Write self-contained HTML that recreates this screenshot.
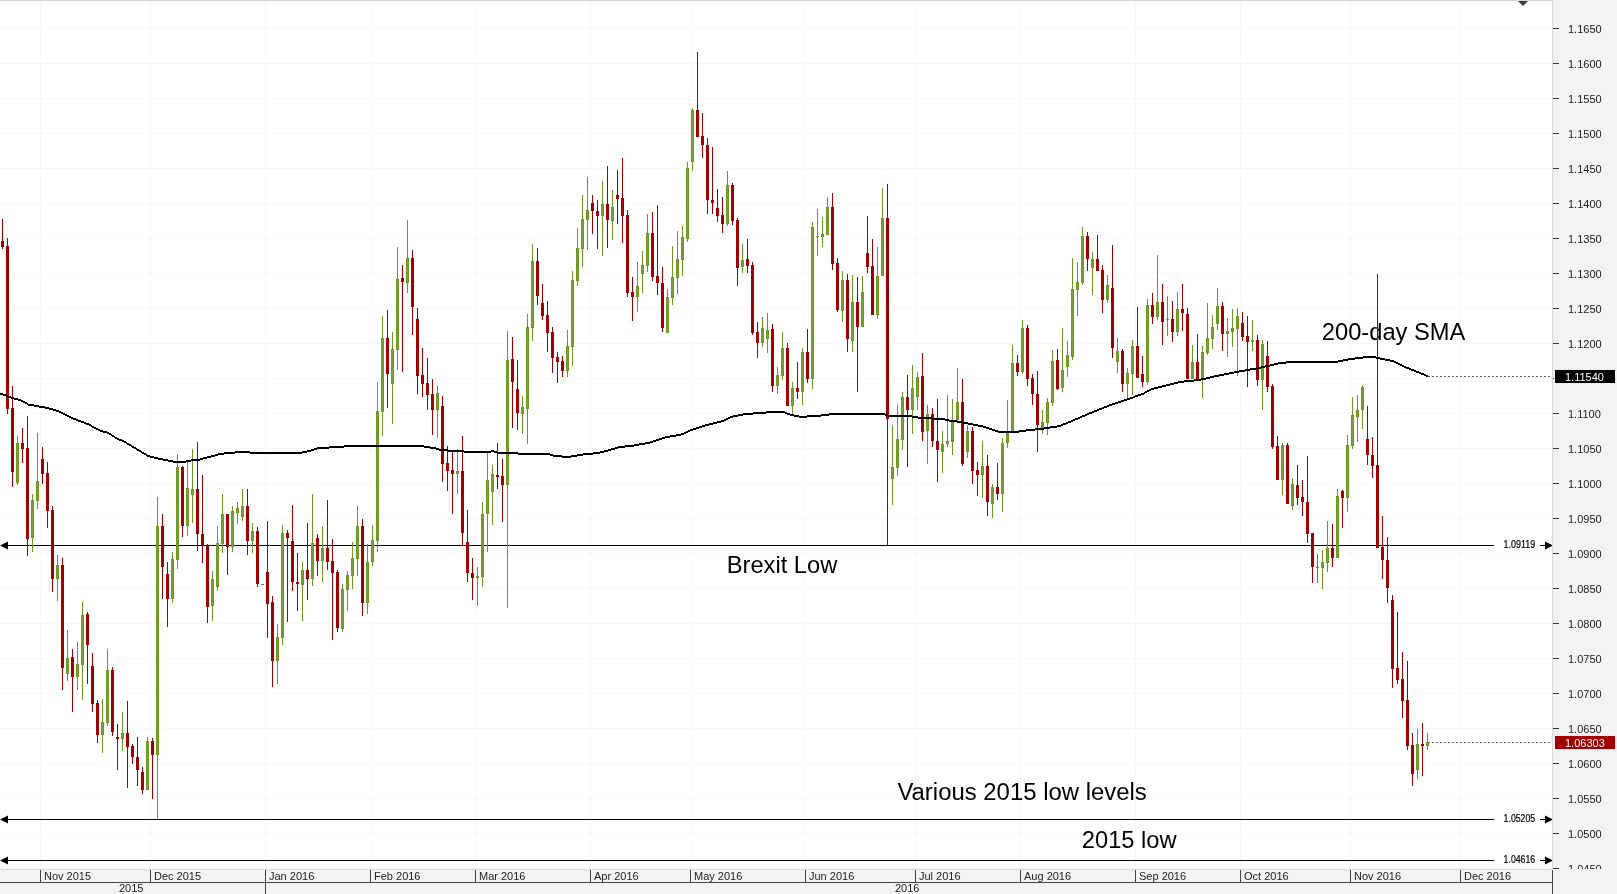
<!DOCTYPE html>
<html><head><meta charset="utf-8"><style>
html,body{margin:0;padding:0;background:#fff;}
body{width:1617px;height:894px;overflow:hidden;position:relative;font-family:"Liberation Sans",sans-serif;}
svg{position:absolute;left:0;top:0;will-change:transform;}
.ax{font-size:11px;fill:#222;}
.big{font-size:23.7px;fill:#000;}
.sm{font-size:10px;fill:#000;stroke:#000;stroke-width:0.2px;}
</style></head><body>
<svg width="1617" height="894" viewBox="0 0 1617 894">
<rect x="0" y="0" width="1617" height="894" fill="#fff"/>
<g shape-rendering="crispEdges">
<rect x="0" y="28" width="1552" height="1" fill="#f7f7f7"/>
<rect x="0" y="63" width="1552" height="1" fill="#f7f7f7"/>
<rect x="0" y="98" width="1552" height="1" fill="#f7f7f7"/>
<rect x="0" y="133" width="1552" height="1" fill="#f7f7f7"/>
<rect x="0" y="168" width="1552" height="1" fill="#f7f7f7"/>
<rect x="0" y="203" width="1552" height="1" fill="#f7f7f7"/>
<rect x="0" y="238" width="1552" height="1" fill="#f7f7f7"/>
<rect x="0" y="273" width="1552" height="1" fill="#f7f7f7"/>
<rect x="0" y="308" width="1552" height="1" fill="#f7f7f7"/>
<rect x="0" y="343" width="1552" height="1" fill="#f7f7f7"/>
<rect x="0" y="378" width="1552" height="1" fill="#f7f7f7"/>
<rect x="0" y="413" width="1552" height="1" fill="#f7f7f7"/>
<rect x="0" y="448" width="1552" height="1" fill="#f7f7f7"/>
<rect x="0" y="483" width="1552" height="1" fill="#f7f7f7"/>
<rect x="0" y="518" width="1552" height="1" fill="#f7f7f7"/>
<rect x="0" y="553" width="1552" height="1" fill="#f7f7f7"/>
<rect x="0" y="588" width="1552" height="1" fill="#f7f7f7"/>
<rect x="0" y="623" width="1552" height="1" fill="#f7f7f7"/>
<rect x="0" y="658" width="1552" height="1" fill="#f7f7f7"/>
<rect x="0" y="693" width="1552" height="1" fill="#f7f7f7"/>
<rect x="0" y="728" width="1552" height="1" fill="#f7f7f7"/>
<rect x="0" y="763" width="1552" height="1" fill="#f7f7f7"/>
<rect x="0" y="798" width="1552" height="1" fill="#f7f7f7"/>
<rect x="0" y="833" width="1552" height="1" fill="#f7f7f7"/>
<rect x="0" y="868" width="1552" height="1" fill="#f7f7f7"/>
<rect x="40" y="0" width="1" height="869" fill="#f7f7f7"/>
<rect x="150" y="0" width="1" height="869" fill="#f7f7f7"/>
<rect x="265" y="0" width="1" height="869" fill="#f7f7f7"/>
<rect x="370" y="0" width="1" height="869" fill="#f7f7f7"/>
<rect x="475" y="0" width="1" height="869" fill="#f7f7f7"/>
<rect x="590" y="0" width="1" height="869" fill="#f7f7f7"/>
<rect x="690" y="0" width="1" height="869" fill="#f7f7f7"/>
<rect x="805" y="0" width="1" height="869" fill="#f7f7f7"/>
<rect x="915" y="0" width="1" height="869" fill="#f7f7f7"/>
<rect x="1020" y="0" width="1" height="869" fill="#f7f7f7"/>
<rect x="1135" y="0" width="1" height="869" fill="#f7f7f7"/>
<rect x="1240" y="0" width="1" height="869" fill="#f7f7f7"/>
<rect x="1350" y="0" width="1" height="869" fill="#f7f7f7"/>
<rect x="1460" y="0" width="1" height="869" fill="#f7f7f7"/>
<rect x="0" y="0" width="1552" height="1" fill="#d8d8d8"/>
</g>
<g shape-rendering="crispEdges">
<rect x="4" y="545" width="1490" height="1" fill="#000"/>
<rect x="1540" y="545" width="6" height="1" fill="#000"/>
<rect x="4" y="819" width="1490" height="1" fill="#000"/>
<rect x="1540" y="819" width="6" height="1" fill="#000"/>
<rect x="4" y="860" width="1490" height="1" fill="#000"/>
<rect x="1540" y="860" width="6" height="1" fill="#000"/>
</g>
<path d="M0,545.5 L8,541.5 L8,549.5 Z" fill="#000"/>
<path d="M1553,545.5 L1545,541.5 L1545,549.5 Z" fill="#000"/>
<text class="sm" x="1503.6" y="548" textLength="31.6" lengthAdjust="spacingAndGlyphs">1.09119</text>
<path d="M0,819.5 L8,815.5 L8,823.5 Z" fill="#000"/>
<path d="M1553,819.5 L1545,815.5 L1545,823.5 Z" fill="#000"/>
<text class="sm" x="1503.6" y="822" textLength="31.6" lengthAdjust="spacingAndGlyphs">1.05205</text>
<path d="M0,860.5 L8,856.5 L8,864.5 Z" fill="#000"/>
<path d="M1553,860.5 L1545,856.5 L1545,864.5 Z" fill="#000"/>
<text class="sm" x="1503.6" y="863" textLength="31.6" lengthAdjust="spacingAndGlyphs">1.04616</text>
<text class="big" x="726.7" y="573">Brexit Low</text>
<text class="big" x="1321.8" y="340">200-day SMA</text>
<text class="big" x="897.4" y="800" style="font-size:23.92px">Various 2015 low levels</text>
<text class="big" x="1081.8" y="848">2015 low</text>
<g shape-rendering="crispEdges">
<rect x="2" y="219" width="1" height="30" fill="#a00000"/>
<rect x="1" y="241" width="3" height="6" fill="#a00000"/>
<rect x="7" y="238" width="1" height="176" fill="#a00000"/>
<rect x="6" y="246" width="3" height="163" fill="#a00000"/>
<rect x="12" y="386" width="1" height="101" fill="#a00000"/>
<rect x="11" y="408" width="3" height="64" fill="#a00000"/>
<rect x="17" y="436" width="1" height="49" fill="#6e9622"/>
<rect x="16" y="443" width="3" height="40" fill="#6e9622"/>
<rect x="17" y="444" width="1" height="38" fill="#79a033"/>
<rect x="22" y="428" width="1" height="35" fill="#a00000"/>
<rect x="21" y="443" width="3" height="6" fill="#a00000"/>
<rect x="27" y="416" width="1" height="140" fill="#a00000"/>
<rect x="26" y="448" width="3" height="91" fill="#a00000"/>
<rect x="32" y="494" width="1" height="58" fill="#6e9622"/>
<rect x="31" y="500" width="3" height="38" fill="#6e9622"/>
<rect x="32" y="501" width="1" height="36" fill="#79a033"/>
<rect x="37" y="433" width="1" height="76" fill="#6e9622"/>
<rect x="36" y="481" width="3" height="20" fill="#6e9622"/>
<rect x="37" y="482" width="1" height="18" fill="#79a033"/>
<rect x="42" y="447" width="1" height="37" fill="#a00000"/>
<rect x="41" y="459" width="3" height="15" fill="#a00000"/>
<rect x="47" y="462" width="1" height="66" fill="#a00000"/>
<rect x="46" y="473" width="3" height="38" fill="#a00000"/>
<rect x="52" y="506" width="1" height="86" fill="#a00000"/>
<rect x="51" y="510" width="3" height="69" fill="#a00000"/>
<rect x="57" y="555" width="1" height="46" fill="#6e9622"/>
<rect x="56" y="565" width="3" height="14" fill="#6e9622"/>
<rect x="57" y="566" width="1" height="12" fill="#79a033"/>
<rect x="62" y="558" width="1" height="132" fill="#a00000"/>
<rect x="61" y="565" width="3" height="103" fill="#a00000"/>
<rect x="67" y="630" width="1" height="51" fill="#6e9622"/>
<rect x="66" y="658" width="3" height="16" fill="#6e9622"/>
<rect x="67" y="659" width="1" height="14" fill="#79a033"/>
<rect x="72" y="649" width="1" height="63" fill="#a00000"/>
<rect x="71" y="657" width="3" height="20" fill="#a00000"/>
<rect x="77" y="642" width="1" height="48" fill="#6e9622"/>
<rect x="76" y="664" width="3" height="13" fill="#6e9622"/>
<rect x="77" y="665" width="1" height="11" fill="#79a033"/>
<rect x="82" y="602" width="1" height="98" fill="#6e9622"/>
<rect x="81" y="615" width="3" height="50" fill="#6e9622"/>
<rect x="82" y="616" width="1" height="48" fill="#79a033"/>
<rect x="87" y="612" width="1" height="72" fill="#a00000"/>
<rect x="86" y="614" width="3" height="31" fill="#a00000"/>
<rect x="92" y="653" width="1" height="59" fill="#a00000"/>
<rect x="91" y="666" width="3" height="38" fill="#a00000"/>
<rect x="97" y="700" width="1" height="43" fill="#a00000"/>
<rect x="96" y="703" width="3" height="32" fill="#a00000"/>
<rect x="102" y="699" width="1" height="54" fill="#6e9622"/>
<rect x="101" y="722" width="3" height="13" fill="#6e9622"/>
<rect x="102" y="723" width="1" height="11" fill="#79a033"/>
<rect x="107" y="649" width="1" height="77" fill="#6e9622"/>
<rect x="106" y="670" width="3" height="53" fill="#6e9622"/>
<rect x="107" y="671" width="1" height="51" fill="#79a033"/>
<rect x="112" y="667" width="1" height="69" fill="#a00000"/>
<rect x="111" y="670" width="3" height="62" fill="#a00000"/>
<rect x="117" y="724" width="1" height="46" fill="#a00000"/>
<rect x="116" y="737" width="3" height="2" fill="#a00000"/>
<rect x="122" y="712" width="1" height="39" fill="#6e9622"/>
<rect x="121" y="733" width="3" height="6" fill="#6e9622"/>
<rect x="122" y="734" width="1" height="4" fill="#79a033"/>
<rect x="127" y="701" width="1" height="87" fill="#a00000"/>
<rect x="126" y="733" width="3" height="14" fill="#a00000"/>
<rect x="132" y="744" width="1" height="20" fill="#a00000"/>
<rect x="131" y="746" width="3" height="11" fill="#a00000"/>
<rect x="137" y="737" width="1" height="49" fill="#a00000"/>
<rect x="136" y="757" width="3" height="13" fill="#a00000"/>
<rect x="142" y="767" width="1" height="27" fill="#a00000"/>
<rect x="141" y="772" width="3" height="18" fill="#a00000"/>
<rect x="147" y="737" width="1" height="53" fill="#6e9622"/>
<rect x="146" y="741" width="3" height="49" fill="#6e9622"/>
<rect x="147" y="742" width="1" height="47" fill="#79a033"/>
<rect x="152" y="738" width="1" height="61" fill="#a00000"/>
<rect x="151" y="741" width="3" height="14" fill="#a00000"/>
<rect x="157" y="497" width="1" height="322" fill="#6e9622"/>
<rect x="156" y="526" width="3" height="229" fill="#6e9622"/>
<rect x="157" y="527" width="1" height="227" fill="#79a033"/>
<rect x="162" y="514" width="1" height="85" fill="#a00000"/>
<rect x="161" y="526" width="3" height="41" fill="#a00000"/>
<rect x="167" y="562" width="1" height="65" fill="#a00000"/>
<rect x="166" y="574" width="3" height="25" fill="#a00000"/>
<rect x="172" y="552" width="1" height="51" fill="#6e9622"/>
<rect x="171" y="559" width="3" height="40" fill="#6e9622"/>
<rect x="172" y="560" width="1" height="38" fill="#79a033"/>
<rect x="177" y="454" width="1" height="115" fill="#6e9622"/>
<rect x="176" y="467" width="3" height="93" fill="#6e9622"/>
<rect x="177" y="468" width="1" height="91" fill="#79a033"/>
<rect x="182" y="466" width="1" height="71" fill="#a00000"/>
<rect x="181" y="467" width="3" height="59" fill="#a00000"/>
<rect x="187" y="461" width="1" height="75" fill="#6e9622"/>
<rect x="186" y="488" width="3" height="38" fill="#6e9622"/>
<rect x="187" y="489" width="1" height="36" fill="#79a033"/>
<rect x="192" y="449" width="1" height="74" fill="#6e9622"/>
<rect x="191" y="489" width="3" height="6" fill="#6e9622"/>
<rect x="192" y="490" width="1" height="4" fill="#79a033"/>
<rect x="197" y="442" width="1" height="109" fill="#a00000"/>
<rect x="196" y="489" width="3" height="45" fill="#a00000"/>
<rect x="202" y="475" width="1" height="88" fill="#a00000"/>
<rect x="201" y="534" width="3" height="11" fill="#a00000"/>
<rect x="207" y="544" width="1" height="79" fill="#a00000"/>
<rect x="206" y="545" width="3" height="62" fill="#a00000"/>
<rect x="212" y="571" width="1" height="50" fill="#6e9622"/>
<rect x="211" y="579" width="3" height="27" fill="#6e9622"/>
<rect x="212" y="580" width="1" height="25" fill="#79a033"/>
<rect x="217" y="526" width="1" height="65" fill="#6e9622"/>
<rect x="216" y="543" width="3" height="44" fill="#6e9622"/>
<rect x="217" y="544" width="1" height="42" fill="#79a033"/>
<rect x="222" y="494" width="1" height="59" fill="#6e9622"/>
<rect x="221" y="514" width="3" height="30" fill="#6e9622"/>
<rect x="222" y="515" width="1" height="28" fill="#79a033"/>
<rect x="227" y="514" width="1" height="61" fill="#a00000"/>
<rect x="226" y="514" width="3" height="33" fill="#a00000"/>
<rect x="232" y="506" width="1" height="46" fill="#6e9622"/>
<rect x="231" y="511" width="3" height="36" fill="#6e9622"/>
<rect x="232" y="512" width="1" height="34" fill="#79a033"/>
<rect x="237" y="502" width="1" height="22" fill="#6e9622"/>
<rect x="236" y="508" width="3" height="5" fill="#6e9622"/>
<rect x="237" y="509" width="1" height="3" fill="#79a033"/>
<rect x="242" y="489" width="1" height="32" fill="#6e9622"/>
<rect x="241" y="506" width="3" height="11" fill="#6e9622"/>
<rect x="242" y="507" width="1" height="9" fill="#79a033"/>
<rect x="247" y="489" width="1" height="66" fill="#a00000"/>
<rect x="246" y="506" width="3" height="35" fill="#a00000"/>
<rect x="252" y="523" width="1" height="30" fill="#6e9622"/>
<rect x="251" y="531" width="3" height="10" fill="#6e9622"/>
<rect x="252" y="532" width="1" height="8" fill="#79a033"/>
<rect x="257" y="527" width="1" height="60" fill="#a00000"/>
<rect x="256" y="531" width="3" height="53" fill="#a00000"/>
<rect x="261" y="584" width="3" height="1" fill="#707070"/>
<rect x="267" y="521" width="1" height="117" fill="#a00000"/>
<rect x="266" y="572" width="3" height="32" fill="#a00000"/>
<rect x="272" y="596" width="1" height="91" fill="#a00000"/>
<rect x="271" y="602" width="3" height="59" fill="#a00000"/>
<rect x="277" y="624" width="1" height="60" fill="#6e9622"/>
<rect x="276" y="637" width="3" height="24" fill="#6e9622"/>
<rect x="277" y="638" width="1" height="22" fill="#79a033"/>
<rect x="282" y="525" width="1" height="120" fill="#6e9622"/>
<rect x="281" y="533" width="3" height="105" fill="#6e9622"/>
<rect x="282" y="534" width="1" height="103" fill="#79a033"/>
<rect x="287" y="530" width="1" height="92" fill="#a00000"/>
<rect x="286" y="533" width="3" height="5" fill="#a00000"/>
<rect x="292" y="505" width="1" height="86" fill="#a00000"/>
<rect x="291" y="541" width="3" height="41" fill="#a00000"/>
<rect x="297" y="553" width="1" height="58" fill="#a00000"/>
<rect x="296" y="582" width="3" height="2" fill="#a00000"/>
<rect x="302" y="562" width="1" height="59" fill="#6e9622"/>
<rect x="301" y="570" width="3" height="15" fill="#6e9622"/>
<rect x="302" y="571" width="1" height="13" fill="#79a033"/>
<rect x="307" y="523" width="1" height="77" fill="#a00000"/>
<rect x="306" y="570" width="3" height="9" fill="#a00000"/>
<rect x="312" y="494" width="1" height="92" fill="#6e9622"/>
<rect x="311" y="543" width="3" height="36" fill="#6e9622"/>
<rect x="312" y="544" width="1" height="34" fill="#79a033"/>
<rect x="317" y="534" width="1" height="42" fill="#a00000"/>
<rect x="316" y="538" width="3" height="23" fill="#a00000"/>
<rect x="322" y="526" width="1" height="56" fill="#6e9622"/>
<rect x="321" y="548" width="3" height="13" fill="#6e9622"/>
<rect x="322" y="549" width="1" height="11" fill="#79a033"/>
<rect x="327" y="500" width="1" height="70" fill="#a00000"/>
<rect x="326" y="548" width="3" height="14" fill="#a00000"/>
<rect x="332" y="539" width="1" height="101" fill="#a00000"/>
<rect x="331" y="561" width="3" height="12" fill="#a00000"/>
<rect x="337" y="570" width="1" height="62" fill="#a00000"/>
<rect x="336" y="572" width="3" height="56" fill="#a00000"/>
<rect x="342" y="584" width="1" height="48" fill="#6e9622"/>
<rect x="341" y="589" width="3" height="40" fill="#6e9622"/>
<rect x="342" y="590" width="1" height="38" fill="#79a033"/>
<rect x="347" y="571" width="1" height="40" fill="#6e9622"/>
<rect x="346" y="575" width="3" height="15" fill="#6e9622"/>
<rect x="347" y="576" width="1" height="13" fill="#79a033"/>
<rect x="352" y="542" width="1" height="47" fill="#6e9622"/>
<rect x="351" y="558" width="3" height="18" fill="#6e9622"/>
<rect x="352" y="559" width="1" height="16" fill="#79a033"/>
<rect x="357" y="506" width="1" height="70" fill="#6e9622"/>
<rect x="356" y="526" width="3" height="33" fill="#6e9622"/>
<rect x="357" y="527" width="1" height="31" fill="#79a033"/>
<rect x="362" y="519" width="1" height="97" fill="#a00000"/>
<rect x="361" y="526" width="3" height="77" fill="#a00000"/>
<rect x="367" y="544" width="1" height="70" fill="#6e9622"/>
<rect x="366" y="562" width="3" height="41" fill="#6e9622"/>
<rect x="367" y="563" width="1" height="39" fill="#79a033"/>
<rect x="372" y="525" width="1" height="41" fill="#6e9622"/>
<rect x="371" y="540" width="3" height="22" fill="#6e9622"/>
<rect x="372" y="541" width="1" height="20" fill="#79a033"/>
<rect x="377" y="382" width="1" height="170" fill="#6e9622"/>
<rect x="376" y="411" width="3" height="130" fill="#6e9622"/>
<rect x="377" y="412" width="1" height="128" fill="#79a033"/>
<rect x="382" y="316" width="1" height="120" fill="#6e9622"/>
<rect x="381" y="338" width="3" height="74" fill="#6e9622"/>
<rect x="382" y="339" width="1" height="72" fill="#79a033"/>
<rect x="387" y="310" width="1" height="98" fill="#a00000"/>
<rect x="386" y="338" width="3" height="36" fill="#a00000"/>
<rect x="392" y="332" width="1" height="92" fill="#6e9622"/>
<rect x="391" y="349" width="3" height="35" fill="#6e9622"/>
<rect x="392" y="350" width="1" height="33" fill="#79a033"/>
<rect x="397" y="247" width="1" height="123" fill="#6e9622"/>
<rect x="396" y="279" width="3" height="71" fill="#6e9622"/>
<rect x="397" y="280" width="1" height="69" fill="#79a033"/>
<rect x="402" y="265" width="1" height="107" fill="#a00000"/>
<rect x="401" y="278" width="3" height="4" fill="#a00000"/>
<rect x="407" y="220" width="1" height="73" fill="#6e9622"/>
<rect x="406" y="258" width="3" height="25" fill="#6e9622"/>
<rect x="407" y="259" width="1" height="23" fill="#79a033"/>
<rect x="412" y="250" width="1" height="85" fill="#a00000"/>
<rect x="411" y="258" width="3" height="49" fill="#a00000"/>
<rect x="417" y="308" width="1" height="86" fill="#a00000"/>
<rect x="416" y="319" width="3" height="57" fill="#a00000"/>
<rect x="422" y="348" width="1" height="49" fill="#a00000"/>
<rect x="421" y="375" width="3" height="9" fill="#a00000"/>
<rect x="427" y="358" width="1" height="52" fill="#a00000"/>
<rect x="426" y="383" width="3" height="12" fill="#a00000"/>
<rect x="432" y="379" width="1" height="56" fill="#a00000"/>
<rect x="431" y="394" width="3" height="16" fill="#a00000"/>
<rect x="437" y="386" width="1" height="52" fill="#6e9622"/>
<rect x="436" y="393" width="3" height="17" fill="#6e9622"/>
<rect x="437" y="394" width="1" height="15" fill="#79a033"/>
<rect x="442" y="396" width="1" height="86" fill="#a00000"/>
<rect x="441" y="406" width="3" height="58" fill="#a00000"/>
<rect x="447" y="446" width="1" height="45" fill="#a00000"/>
<rect x="446" y="463" width="3" height="8" fill="#a00000"/>
<rect x="452" y="452" width="1" height="62" fill="#a00000"/>
<rect x="451" y="470" width="3" height="4" fill="#a00000"/>
<rect x="457" y="449" width="1" height="45" fill="#6e9622"/>
<rect x="456" y="471" width="3" height="3" fill="#6e9622"/>
<rect x="457" y="472" width="1" height="1" fill="#79a033"/>
<rect x="462" y="436" width="1" height="109" fill="#a00000"/>
<rect x="461" y="471" width="3" height="62" fill="#a00000"/>
<rect x="467" y="510" width="1" height="72" fill="#a00000"/>
<rect x="466" y="542" width="3" height="31" fill="#a00000"/>
<rect x="472" y="558" width="1" height="42" fill="#a00000"/>
<rect x="471" y="573" width="3" height="5" fill="#a00000"/>
<rect x="477" y="567" width="1" height="39" fill="#6e9622"/>
<rect x="476" y="576" width="3" height="2" fill="#6e9622"/>
<rect x="482" y="502" width="1" height="85" fill="#6e9622"/>
<rect x="481" y="514" width="3" height="63" fill="#6e9622"/>
<rect x="482" y="515" width="1" height="61" fill="#79a033"/>
<rect x="487" y="453" width="1" height="99" fill="#6e9622"/>
<rect x="486" y="480" width="3" height="34" fill="#6e9622"/>
<rect x="487" y="481" width="1" height="32" fill="#79a033"/>
<rect x="492" y="465" width="1" height="60" fill="#6e9622"/>
<rect x="491" y="474" width="3" height="18" fill="#6e9622"/>
<rect x="492" y="475" width="1" height="16" fill="#79a033"/>
<rect x="497" y="443" width="1" height="46" fill="#a00000"/>
<rect x="496" y="475" width="3" height="2" fill="#a00000"/>
<rect x="502" y="459" width="1" height="63" fill="#a00000"/>
<rect x="501" y="476" width="3" height="9" fill="#a00000"/>
<rect x="507" y="331" width="1" height="277" fill="#6e9622"/>
<rect x="506" y="360" width="3" height="125" fill="#6e9622"/>
<rect x="507" y="361" width="1" height="123" fill="#79a033"/>
<rect x="512" y="337" width="1" height="91" fill="#a00000"/>
<rect x="511" y="359" width="3" height="23" fill="#a00000"/>
<rect x="517" y="360" width="1" height="70" fill="#a00000"/>
<rect x="516" y="389" width="3" height="24" fill="#a00000"/>
<rect x="522" y="396" width="1" height="38" fill="#6e9622"/>
<rect x="521" y="407" width="3" height="7" fill="#6e9622"/>
<rect x="522" y="408" width="1" height="5" fill="#79a033"/>
<rect x="527" y="314" width="1" height="130" fill="#6e9622"/>
<rect x="526" y="327" width="3" height="82" fill="#6e9622"/>
<rect x="527" y="328" width="1" height="80" fill="#79a033"/>
<rect x="532" y="244" width="1" height="97" fill="#6e9622"/>
<rect x="531" y="261" width="3" height="67" fill="#6e9622"/>
<rect x="532" y="262" width="1" height="65" fill="#79a033"/>
<rect x="537" y="248" width="1" height="57" fill="#a00000"/>
<rect x="536" y="261" width="3" height="35" fill="#a00000"/>
<rect x="542" y="284" width="1" height="36" fill="#a00000"/>
<rect x="541" y="303" width="3" height="13" fill="#a00000"/>
<rect x="547" y="301" width="1" height="51" fill="#a00000"/>
<rect x="546" y="315" width="3" height="18" fill="#a00000"/>
<rect x="552" y="327" width="1" height="46" fill="#a00000"/>
<rect x="551" y="332" width="3" height="26" fill="#a00000"/>
<rect x="557" y="352" width="1" height="31" fill="#a00000"/>
<rect x="556" y="357" width="3" height="5" fill="#a00000"/>
<rect x="562" y="356" width="1" height="21" fill="#a00000"/>
<rect x="561" y="361" width="3" height="10" fill="#a00000"/>
<rect x="567" y="330" width="1" height="47" fill="#6e9622"/>
<rect x="566" y="346" width="3" height="25" fill="#6e9622"/>
<rect x="567" y="347" width="1" height="23" fill="#79a033"/>
<rect x="572" y="271" width="1" height="95" fill="#6e9622"/>
<rect x="571" y="280" width="3" height="67" fill="#6e9622"/>
<rect x="572" y="281" width="1" height="65" fill="#79a033"/>
<rect x="577" y="228" width="1" height="58" fill="#6e9622"/>
<rect x="576" y="248" width="3" height="33" fill="#6e9622"/>
<rect x="577" y="249" width="1" height="31" fill="#79a033"/>
<rect x="582" y="195" width="1" height="72" fill="#6e9622"/>
<rect x="581" y="219" width="3" height="30" fill="#6e9622"/>
<rect x="582" y="220" width="1" height="28" fill="#79a033"/>
<rect x="587" y="177" width="1" height="73" fill="#6e9622"/>
<rect x="586" y="210" width="3" height="10" fill="#6e9622"/>
<rect x="587" y="211" width="1" height="8" fill="#79a033"/>
<rect x="592" y="195" width="1" height="39" fill="#a00000"/>
<rect x="591" y="203" width="3" height="8" fill="#a00000"/>
<rect x="597" y="200" width="1" height="49" fill="#a00000"/>
<rect x="596" y="211" width="3" height="5" fill="#a00000"/>
<rect x="602" y="181" width="1" height="75" fill="#6e9622"/>
<rect x="601" y="204" width="3" height="12" fill="#6e9622"/>
<rect x="602" y="205" width="1" height="10" fill="#79a033"/>
<rect x="607" y="166" width="1" height="82" fill="#a00000"/>
<rect x="606" y="204" width="3" height="16" fill="#a00000"/>
<rect x="612" y="190" width="1" height="50" fill="#6e9622"/>
<rect x="611" y="207" width="3" height="14" fill="#6e9622"/>
<rect x="612" y="208" width="1" height="12" fill="#79a033"/>
<rect x="617" y="170" width="1" height="54" fill="#a00000"/>
<rect x="616" y="195" width="3" height="4" fill="#a00000"/>
<rect x="622" y="158" width="1" height="85" fill="#a00000"/>
<rect x="621" y="198" width="3" height="18" fill="#a00000"/>
<rect x="627" y="210" width="1" height="87" fill="#a00000"/>
<rect x="626" y="215" width="3" height="78" fill="#a00000"/>
<rect x="632" y="277" width="1" height="44" fill="#a00000"/>
<rect x="631" y="292" width="3" height="5" fill="#a00000"/>
<rect x="637" y="262" width="1" height="50" fill="#6e9622"/>
<rect x="636" y="286" width="3" height="11" fill="#6e9622"/>
<rect x="637" y="287" width="1" height="9" fill="#79a033"/>
<rect x="642" y="251" width="1" height="42" fill="#6e9622"/>
<rect x="641" y="265" width="3" height="9" fill="#6e9622"/>
<rect x="642" y="266" width="1" height="7" fill="#79a033"/>
<rect x="647" y="214" width="1" height="58" fill="#6e9622"/>
<rect x="646" y="233" width="3" height="33" fill="#6e9622"/>
<rect x="647" y="234" width="1" height="31" fill="#79a033"/>
<rect x="652" y="212" width="1" height="69" fill="#a00000"/>
<rect x="651" y="233" width="3" height="44" fill="#a00000"/>
<rect x="657" y="205" width="1" height="90" fill="#a00000"/>
<rect x="656" y="276" width="3" height="7" fill="#a00000"/>
<rect x="662" y="267" width="1" height="65" fill="#a00000"/>
<rect x="661" y="283" width="3" height="45" fill="#a00000"/>
<rect x="667" y="289" width="1" height="44" fill="#6e9622"/>
<rect x="666" y="297" width="3" height="36" fill="#6e9622"/>
<rect x="667" y="298" width="1" height="34" fill="#79a033"/>
<rect x="672" y="246" width="1" height="59" fill="#6e9622"/>
<rect x="671" y="277" width="3" height="21" fill="#6e9622"/>
<rect x="672" y="278" width="1" height="19" fill="#79a033"/>
<rect x="677" y="231" width="1" height="63" fill="#6e9622"/>
<rect x="676" y="259" width="3" height="19" fill="#6e9622"/>
<rect x="677" y="260" width="1" height="17" fill="#79a033"/>
<rect x="682" y="226" width="1" height="50" fill="#6e9622"/>
<rect x="681" y="237" width="3" height="23" fill="#6e9622"/>
<rect x="682" y="238" width="1" height="21" fill="#79a033"/>
<rect x="687" y="162" width="1" height="80" fill="#6e9622"/>
<rect x="686" y="168" width="3" height="71" fill="#6e9622"/>
<rect x="687" y="169" width="1" height="69" fill="#79a033"/>
<rect x="692" y="108" width="1" height="63" fill="#6e9622"/>
<rect x="691" y="110" width="3" height="52" fill="#6e9622"/>
<rect x="692" y="111" width="1" height="50" fill="#79a033"/>
<rect x="697" y="52" width="1" height="85" fill="#a00000"/>
<rect x="696" y="110" width="3" height="27" fill="#a00000"/>
<rect x="702" y="113" width="1" height="45" fill="#a00000"/>
<rect x="701" y="136" width="3" height="9" fill="#a00000"/>
<rect x="707" y="138" width="1" height="76" fill="#a00000"/>
<rect x="706" y="145" width="3" height="55" fill="#a00000"/>
<rect x="712" y="147" width="1" height="67" fill="#a00000"/>
<rect x="711" y="200" width="3" height="3" fill="#a00000"/>
<rect x="717" y="189" width="1" height="33" fill="#a00000"/>
<rect x="716" y="208" width="3" height="8" fill="#a00000"/>
<rect x="722" y="197" width="1" height="36" fill="#a00000"/>
<rect x="721" y="215" width="3" height="9" fill="#a00000"/>
<rect x="727" y="171" width="1" height="55" fill="#6e9622"/>
<rect x="726" y="185" width="3" height="39" fill="#6e9622"/>
<rect x="727" y="186" width="1" height="37" fill="#79a033"/>
<rect x="732" y="183" width="1" height="42" fill="#a00000"/>
<rect x="731" y="185" width="3" height="36" fill="#a00000"/>
<rect x="737" y="218" width="1" height="68" fill="#a00000"/>
<rect x="736" y="220" width="3" height="48" fill="#a00000"/>
<rect x="742" y="244" width="1" height="29" fill="#6e9622"/>
<rect x="741" y="260" width="3" height="7" fill="#6e9622"/>
<rect x="742" y="261" width="1" height="5" fill="#79a033"/>
<rect x="747" y="239" width="1" height="34" fill="#a00000"/>
<rect x="746" y="259" width="3" height="7" fill="#a00000"/>
<rect x="752" y="262" width="1" height="73" fill="#a00000"/>
<rect x="751" y="265" width="3" height="68" fill="#a00000"/>
<rect x="757" y="322" width="1" height="36" fill="#a00000"/>
<rect x="756" y="332" width="3" height="11" fill="#a00000"/>
<rect x="762" y="317" width="1" height="30" fill="#6e9622"/>
<rect x="761" y="328" width="3" height="15" fill="#6e9622"/>
<rect x="762" y="329" width="1" height="13" fill="#79a033"/>
<rect x="767" y="313" width="1" height="40" fill="#6e9622"/>
<rect x="766" y="330" width="3" height="9" fill="#6e9622"/>
<rect x="767" y="331" width="1" height="7" fill="#79a033"/>
<rect x="772" y="324" width="1" height="68" fill="#a00000"/>
<rect x="771" y="329" width="3" height="57" fill="#a00000"/>
<rect x="777" y="367" width="1" height="27" fill="#6e9622"/>
<rect x="776" y="375" width="3" height="11" fill="#6e9622"/>
<rect x="777" y="376" width="1" height="9" fill="#79a033"/>
<rect x="782" y="332" width="1" height="48" fill="#6e9622"/>
<rect x="781" y="348" width="3" height="28" fill="#6e9622"/>
<rect x="782" y="349" width="1" height="26" fill="#79a033"/>
<rect x="787" y="343" width="1" height="63" fill="#a00000"/>
<rect x="786" y="348" width="3" height="58" fill="#a00000"/>
<rect x="792" y="382" width="1" height="32" fill="#6e9622"/>
<rect x="791" y="388" width="3" height="18" fill="#6e9622"/>
<rect x="792" y="389" width="1" height="16" fill="#79a033"/>
<rect x="797" y="362" width="1" height="37" fill="#a00000"/>
<rect x="796" y="388" width="3" height="4" fill="#a00000"/>
<rect x="802" y="348" width="1" height="57" fill="#6e9622"/>
<rect x="801" y="352" width="3" height="40" fill="#6e9622"/>
<rect x="802" y="353" width="1" height="38" fill="#79a033"/>
<rect x="807" y="329" width="1" height="54" fill="#a00000"/>
<rect x="806" y="352" width="3" height="27" fill="#a00000"/>
<rect x="812" y="222" width="1" height="167" fill="#6e9622"/>
<rect x="811" y="227" width="3" height="152" fill="#6e9622"/>
<rect x="812" y="228" width="1" height="150" fill="#79a033"/>
<rect x="817" y="209" width="1" height="47" fill="#6e9622"/>
<rect x="816" y="236" width="3" height="1" fill="#6e9622"/>
<rect x="822" y="217" width="1" height="30" fill="#6e9622"/>
<rect x="821" y="234" width="3" height="3" fill="#6e9622"/>
<rect x="822" y="235" width="1" height="1" fill="#79a033"/>
<rect x="827" y="197" width="1" height="38" fill="#6e9622"/>
<rect x="826" y="207" width="3" height="28" fill="#6e9622"/>
<rect x="827" y="208" width="1" height="26" fill="#79a033"/>
<rect x="832" y="193" width="1" height="77" fill="#a00000"/>
<rect x="831" y="207" width="3" height="57" fill="#a00000"/>
<rect x="837" y="258" width="1" height="54" fill="#a00000"/>
<rect x="836" y="263" width="3" height="47" fill="#a00000"/>
<rect x="842" y="271" width="1" height="51" fill="#6e9622"/>
<rect x="841" y="280" width="3" height="31" fill="#6e9622"/>
<rect x="842" y="281" width="1" height="29" fill="#79a033"/>
<rect x="847" y="274" width="1" height="78" fill="#a00000"/>
<rect x="846" y="280" width="3" height="59" fill="#a00000"/>
<rect x="852" y="275" width="1" height="77" fill="#6e9622"/>
<rect x="851" y="302" width="3" height="39" fill="#6e9622"/>
<rect x="852" y="303" width="1" height="37" fill="#79a033"/>
<rect x="857" y="277" width="1" height="115" fill="#a00000"/>
<rect x="856" y="302" width="3" height="25" fill="#a00000"/>
<rect x="862" y="276" width="1" height="51" fill="#6e9622"/>
<rect x="861" y="292" width="3" height="35" fill="#6e9622"/>
<rect x="862" y="293" width="1" height="33" fill="#79a033"/>
<rect x="867" y="216" width="1" height="57" fill="#a00000"/>
<rect x="866" y="253" width="3" height="14" fill="#a00000"/>
<rect x="872" y="239" width="1" height="76" fill="#a00000"/>
<rect x="871" y="266" width="3" height="49" fill="#a00000"/>
<rect x="877" y="247" width="1" height="72" fill="#6e9622"/>
<rect x="876" y="276" width="3" height="39" fill="#6e9622"/>
<rect x="877" y="277" width="1" height="37" fill="#79a033"/>
<rect x="882" y="188" width="1" height="88" fill="#6e9622"/>
<rect x="881" y="218" width="3" height="58" fill="#6e9622"/>
<rect x="882" y="219" width="1" height="56" fill="#79a033"/>
<rect x="887" y="184" width="1" height="361" fill="#a00000"/>
<rect x="886" y="218" width="3" height="201" fill="#a00000"/>
<rect x="892" y="425" width="1" height="80" fill="#6e9622"/>
<rect x="891" y="467" width="3" height="12" fill="#6e9622"/>
<rect x="892" y="468" width="1" height="10" fill="#79a033"/>
<rect x="897" y="405" width="1" height="71" fill="#6e9622"/>
<rect x="896" y="439" width="3" height="29" fill="#6e9622"/>
<rect x="897" y="440" width="1" height="27" fill="#79a033"/>
<rect x="902" y="392" width="1" height="58" fill="#6e9622"/>
<rect x="901" y="397" width="3" height="43" fill="#6e9622"/>
<rect x="902" y="398" width="1" height="41" fill="#79a033"/>
<rect x="907" y="375" width="1" height="92" fill="#a00000"/>
<rect x="906" y="397" width="3" height="13" fill="#a00000"/>
<rect x="912" y="365" width="1" height="69" fill="#6e9622"/>
<rect x="911" y="388" width="3" height="22" fill="#6e9622"/>
<rect x="912" y="389" width="1" height="20" fill="#79a033"/>
<rect x="917" y="372" width="1" height="38" fill="#6e9622"/>
<rect x="916" y="377" width="3" height="20" fill="#6e9622"/>
<rect x="917" y="378" width="1" height="18" fill="#79a033"/>
<rect x="922" y="353" width="1" height="88" fill="#a00000"/>
<rect x="921" y="376" width="3" height="56" fill="#a00000"/>
<rect x="927" y="405" width="1" height="59" fill="#6e9622"/>
<rect x="926" y="414" width="3" height="17" fill="#6e9622"/>
<rect x="927" y="415" width="1" height="15" fill="#79a033"/>
<rect x="932" y="408" width="1" height="39" fill="#a00000"/>
<rect x="931" y="414" width="3" height="27" fill="#a00000"/>
<rect x="937" y="399" width="1" height="83" fill="#a00000"/>
<rect x="936" y="441" width="3" height="9" fill="#a00000"/>
<rect x="942" y="431" width="1" height="42" fill="#6e9622"/>
<rect x="941" y="444" width="3" height="8" fill="#6e9622"/>
<rect x="942" y="445" width="1" height="6" fill="#79a033"/>
<rect x="947" y="395" width="1" height="52" fill="#6e9622"/>
<rect x="946" y="441" width="3" height="3" fill="#6e9622"/>
<rect x="947" y="442" width="1" height="1" fill="#79a033"/>
<rect x="952" y="399" width="1" height="56" fill="#6e9622"/>
<rect x="951" y="422" width="3" height="20" fill="#6e9622"/>
<rect x="952" y="423" width="1" height="18" fill="#79a033"/>
<rect x="957" y="368" width="1" height="54" fill="#6e9622"/>
<rect x="956" y="402" width="3" height="18" fill="#6e9622"/>
<rect x="957" y="403" width="1" height="16" fill="#79a033"/>
<rect x="962" y="379" width="1" height="87" fill="#a00000"/>
<rect x="961" y="402" width="3" height="62" fill="#a00000"/>
<rect x="967" y="425" width="1" height="33" fill="#6e9622"/>
<rect x="966" y="431" width="3" height="21" fill="#6e9622"/>
<rect x="967" y="432" width="1" height="19" fill="#79a033"/>
<rect x="972" y="427" width="1" height="57" fill="#a00000"/>
<rect x="971" y="431" width="3" height="40" fill="#a00000"/>
<rect x="977" y="462" width="1" height="34" fill="#a00000"/>
<rect x="976" y="470" width="3" height="5" fill="#a00000"/>
<rect x="982" y="441" width="1" height="57" fill="#6e9622"/>
<rect x="981" y="466" width="3" height="9" fill="#6e9622"/>
<rect x="982" y="467" width="1" height="7" fill="#79a033"/>
<rect x="987" y="455" width="1" height="61" fill="#a00000"/>
<rect x="986" y="466" width="3" height="36" fill="#a00000"/>
<rect x="992" y="484" width="1" height="34" fill="#6e9622"/>
<rect x="991" y="487" width="3" height="17" fill="#6e9622"/>
<rect x="992" y="488" width="1" height="15" fill="#79a033"/>
<rect x="997" y="463" width="1" height="37" fill="#a00000"/>
<rect x="996" y="487" width="3" height="7" fill="#a00000"/>
<rect x="1002" y="438" width="1" height="74" fill="#6e9622"/>
<rect x="1001" y="443" width="3" height="51" fill="#6e9622"/>
<rect x="1002" y="444" width="1" height="49" fill="#79a033"/>
<rect x="1007" y="400" width="1" height="48" fill="#6e9622"/>
<rect x="1006" y="433" width="3" height="10" fill="#6e9622"/>
<rect x="1007" y="434" width="1" height="8" fill="#79a033"/>
<rect x="1012" y="345" width="1" height="87" fill="#6e9622"/>
<rect x="1011" y="363" width="3" height="69" fill="#6e9622"/>
<rect x="1012" y="364" width="1" height="67" fill="#79a033"/>
<rect x="1017" y="355" width="1" height="21" fill="#a00000"/>
<rect x="1016" y="363" width="3" height="9" fill="#a00000"/>
<rect x="1022" y="320" width="1" height="54" fill="#6e9622"/>
<rect x="1021" y="328" width="3" height="44" fill="#6e9622"/>
<rect x="1022" y="329" width="1" height="42" fill="#79a033"/>
<rect x="1027" y="325" width="1" height="61" fill="#a00000"/>
<rect x="1026" y="328" width="3" height="51" fill="#a00000"/>
<rect x="1032" y="374" width="1" height="31" fill="#a00000"/>
<rect x="1031" y="378" width="3" height="16" fill="#a00000"/>
<rect x="1037" y="371" width="1" height="81" fill="#a00000"/>
<rect x="1036" y="394" width="3" height="31" fill="#a00000"/>
<rect x="1042" y="410" width="1" height="24" fill="#6e9622"/>
<rect x="1041" y="422" width="3" height="6" fill="#6e9622"/>
<rect x="1042" y="423" width="1" height="4" fill="#79a033"/>
<rect x="1047" y="398" width="1" height="37" fill="#6e9622"/>
<rect x="1046" y="402" width="3" height="21" fill="#6e9622"/>
<rect x="1047" y="403" width="1" height="19" fill="#79a033"/>
<rect x="1052" y="350" width="1" height="56" fill="#6e9622"/>
<rect x="1051" y="361" width="3" height="42" fill="#6e9622"/>
<rect x="1052" y="362" width="1" height="40" fill="#79a033"/>
<rect x="1057" y="349" width="1" height="41" fill="#a00000"/>
<rect x="1056" y="360" width="3" height="29" fill="#a00000"/>
<rect x="1062" y="328" width="1" height="64" fill="#6e9622"/>
<rect x="1061" y="370" width="3" height="18" fill="#6e9622"/>
<rect x="1062" y="371" width="1" height="16" fill="#79a033"/>
<rect x="1067" y="341" width="1" height="36" fill="#6e9622"/>
<rect x="1066" y="355" width="3" height="12" fill="#6e9622"/>
<rect x="1067" y="356" width="1" height="10" fill="#79a033"/>
<rect x="1072" y="258" width="1" height="102" fill="#6e9622"/>
<rect x="1071" y="289" width="3" height="68" fill="#6e9622"/>
<rect x="1072" y="290" width="1" height="66" fill="#79a033"/>
<rect x="1077" y="262" width="1" height="54" fill="#6e9622"/>
<rect x="1076" y="282" width="3" height="8" fill="#6e9622"/>
<rect x="1077" y="283" width="1" height="6" fill="#79a033"/>
<rect x="1082" y="227" width="1" height="58" fill="#6e9622"/>
<rect x="1081" y="236" width="3" height="47" fill="#6e9622"/>
<rect x="1082" y="237" width="1" height="45" fill="#79a033"/>
<rect x="1087" y="232" width="1" height="39" fill="#a00000"/>
<rect x="1086" y="236" width="3" height="23" fill="#a00000"/>
<rect x="1092" y="252" width="1" height="43" fill="#6e9622"/>
<rect x="1091" y="259" width="3" height="9" fill="#6e9622"/>
<rect x="1092" y="260" width="1" height="7" fill="#79a033"/>
<rect x="1097" y="235" width="1" height="36" fill="#a00000"/>
<rect x="1096" y="259" width="3" height="12" fill="#a00000"/>
<rect x="1102" y="265" width="1" height="48" fill="#a00000"/>
<rect x="1101" y="270" width="3" height="30" fill="#a00000"/>
<rect x="1107" y="275" width="1" height="28" fill="#6e9622"/>
<rect x="1106" y="285" width="3" height="15" fill="#6e9622"/>
<rect x="1107" y="286" width="1" height="13" fill="#79a033"/>
<rect x="1112" y="245" width="1" height="113" fill="#a00000"/>
<rect x="1111" y="288" width="3" height="60" fill="#a00000"/>
<rect x="1117" y="338" width="1" height="35" fill="#6e9622"/>
<rect x="1116" y="351" width="3" height="11" fill="#6e9622"/>
<rect x="1117" y="352" width="1" height="9" fill="#79a033"/>
<rect x="1122" y="349" width="1" height="43" fill="#a00000"/>
<rect x="1121" y="351" width="3" height="33" fill="#a00000"/>
<rect x="1127" y="368" width="1" height="30" fill="#6e9622"/>
<rect x="1126" y="373" width="3" height="11" fill="#6e9622"/>
<rect x="1127" y="374" width="1" height="9" fill="#79a033"/>
<rect x="1132" y="340" width="1" height="55" fill="#6e9622"/>
<rect x="1131" y="346" width="3" height="28" fill="#6e9622"/>
<rect x="1132" y="347" width="1" height="26" fill="#79a033"/>
<rect x="1137" y="307" width="1" height="71" fill="#a00000"/>
<rect x="1136" y="346" width="3" height="32" fill="#a00000"/>
<rect x="1142" y="356" width="1" height="31" fill="#a00000"/>
<rect x="1141" y="374" width="3" height="8" fill="#a00000"/>
<rect x="1147" y="299" width="1" height="86" fill="#6e9622"/>
<rect x="1146" y="305" width="3" height="77" fill="#6e9622"/>
<rect x="1147" y="306" width="1" height="75" fill="#79a033"/>
<rect x="1152" y="293" width="1" height="31" fill="#a00000"/>
<rect x="1151" y="305" width="3" height="12" fill="#a00000"/>
<rect x="1157" y="255" width="1" height="65" fill="#6e9622"/>
<rect x="1156" y="302" width="3" height="15" fill="#6e9622"/>
<rect x="1157" y="303" width="1" height="13" fill="#79a033"/>
<rect x="1162" y="284" width="1" height="61" fill="#a00000"/>
<rect x="1161" y="302" width="3" height="20" fill="#a00000"/>
<rect x="1167" y="296" width="1" height="40" fill="#6e9622"/>
<rect x="1166" y="319" width="3" height="1" fill="#6e9622"/>
<rect x="1172" y="301" width="1" height="41" fill="#a00000"/>
<rect x="1171" y="319" width="3" height="13" fill="#a00000"/>
<rect x="1177" y="292" width="1" height="44" fill="#6e9622"/>
<rect x="1176" y="309" width="3" height="23" fill="#6e9622"/>
<rect x="1177" y="310" width="1" height="21" fill="#79a033"/>
<rect x="1182" y="284" width="1" height="47" fill="#a00000"/>
<rect x="1181" y="309" width="3" height="4" fill="#a00000"/>
<rect x="1187" y="308" width="1" height="71" fill="#a00000"/>
<rect x="1186" y="314" width="3" height="65" fill="#a00000"/>
<rect x="1192" y="345" width="1" height="34" fill="#6e9622"/>
<rect x="1191" y="362" width="3" height="17" fill="#6e9622"/>
<rect x="1192" y="363" width="1" height="15" fill="#79a033"/>
<rect x="1197" y="334" width="1" height="45" fill="#a00000"/>
<rect x="1196" y="362" width="3" height="17" fill="#a00000"/>
<rect x="1202" y="346" width="1" height="52" fill="#6e9622"/>
<rect x="1201" y="352" width="3" height="27" fill="#6e9622"/>
<rect x="1202" y="353" width="1" height="25" fill="#79a033"/>
<rect x="1207" y="303" width="1" height="52" fill="#6e9622"/>
<rect x="1206" y="338" width="3" height="15" fill="#6e9622"/>
<rect x="1207" y="339" width="1" height="13" fill="#79a033"/>
<rect x="1212" y="315" width="1" height="34" fill="#6e9622"/>
<rect x="1211" y="327" width="3" height="12" fill="#6e9622"/>
<rect x="1212" y="328" width="1" height="10" fill="#79a033"/>
<rect x="1217" y="288" width="1" height="42" fill="#6e9622"/>
<rect x="1216" y="306" width="3" height="18" fill="#6e9622"/>
<rect x="1217" y="307" width="1" height="16" fill="#79a033"/>
<rect x="1222" y="302" width="1" height="49" fill="#a00000"/>
<rect x="1221" y="306" width="3" height="28" fill="#a00000"/>
<rect x="1227" y="318" width="1" height="39" fill="#6e9622"/>
<rect x="1226" y="331" width="3" height="3" fill="#6e9622"/>
<rect x="1227" y="332" width="1" height="1" fill="#79a033"/>
<rect x="1232" y="309" width="1" height="38" fill="#6e9622"/>
<rect x="1231" y="328" width="3" height="4" fill="#6e9622"/>
<rect x="1232" y="329" width="1" height="2" fill="#79a033"/>
<rect x="1237" y="308" width="1" height="68" fill="#6e9622"/>
<rect x="1236" y="316" width="3" height="13" fill="#6e9622"/>
<rect x="1237" y="317" width="1" height="11" fill="#79a033"/>
<rect x="1242" y="312" width="1" height="29" fill="#a00000"/>
<rect x="1241" y="323" width="3" height="14" fill="#a00000"/>
<rect x="1247" y="316" width="1" height="71" fill="#a00000"/>
<rect x="1246" y="336" width="3" height="6" fill="#a00000"/>
<rect x="1252" y="320" width="1" height="31" fill="#6e9622"/>
<rect x="1251" y="340" width="3" height="2" fill="#6e9622"/>
<rect x="1257" y="335" width="1" height="51" fill="#a00000"/>
<rect x="1256" y="340" width="3" height="40" fill="#a00000"/>
<rect x="1262" y="340" width="1" height="70" fill="#6e9622"/>
<rect x="1261" y="344" width="3" height="36" fill="#6e9622"/>
<rect x="1262" y="345" width="1" height="34" fill="#79a033"/>
<rect x="1267" y="341" width="1" height="51" fill="#a00000"/>
<rect x="1266" y="356" width="3" height="31" fill="#a00000"/>
<rect x="1272" y="384" width="1" height="65" fill="#a00000"/>
<rect x="1271" y="386" width="3" height="61" fill="#a00000"/>
<rect x="1277" y="436" width="1" height="44" fill="#a00000"/>
<rect x="1276" y="446" width="3" height="34" fill="#a00000"/>
<rect x="1282" y="443" width="1" height="52" fill="#6e9622"/>
<rect x="1281" y="445" width="3" height="35" fill="#6e9622"/>
<rect x="1282" y="446" width="1" height="33" fill="#79a033"/>
<rect x="1287" y="443" width="1" height="61" fill="#a00000"/>
<rect x="1286" y="445" width="3" height="59" fill="#a00000"/>
<rect x="1292" y="478" width="1" height="32" fill="#6e9622"/>
<rect x="1291" y="484" width="3" height="22" fill="#6e9622"/>
<rect x="1292" y="485" width="1" height="20" fill="#79a033"/>
<rect x="1297" y="465" width="1" height="40" fill="#a00000"/>
<rect x="1296" y="485" width="3" height="13" fill="#a00000"/>
<rect x="1302" y="480" width="1" height="36" fill="#a00000"/>
<rect x="1301" y="497" width="3" height="5" fill="#a00000"/>
<rect x="1307" y="456" width="1" height="87" fill="#a00000"/>
<rect x="1306" y="502" width="3" height="32" fill="#a00000"/>
<rect x="1312" y="533" width="1" height="50" fill="#a00000"/>
<rect x="1311" y="533" width="3" height="34" fill="#a00000"/>
<rect x="1317" y="554" width="1" height="29" fill="#707070"/>
<rect x="1316" y="567" width="3" height="1" fill="#707070"/>
<rect x="1322" y="550" width="1" height="39" fill="#6e9622"/>
<rect x="1321" y="562" width="3" height="6" fill="#6e9622"/>
<rect x="1322" y="563" width="1" height="4" fill="#79a033"/>
<rect x="1327" y="521" width="1" height="51" fill="#6e9622"/>
<rect x="1326" y="548" width="3" height="15" fill="#6e9622"/>
<rect x="1327" y="549" width="1" height="13" fill="#79a033"/>
<rect x="1332" y="524" width="1" height="43" fill="#a00000"/>
<rect x="1331" y="548" width="3" height="10" fill="#a00000"/>
<rect x="1337" y="489" width="1" height="69" fill="#6e9622"/>
<rect x="1336" y="496" width="3" height="62" fill="#6e9622"/>
<rect x="1337" y="497" width="1" height="60" fill="#79a033"/>
<rect x="1342" y="490" width="1" height="38" fill="#a00000"/>
<rect x="1341" y="491" width="3" height="7" fill="#a00000"/>
<rect x="1347" y="435" width="1" height="77" fill="#6e9622"/>
<rect x="1346" y="445" width="3" height="53" fill="#6e9622"/>
<rect x="1347" y="446" width="1" height="51" fill="#79a033"/>
<rect x="1352" y="397" width="1" height="52" fill="#6e9622"/>
<rect x="1351" y="415" width="3" height="31" fill="#6e9622"/>
<rect x="1352" y="416" width="1" height="29" fill="#79a033"/>
<rect x="1357" y="395" width="1" height="47" fill="#6e9622"/>
<rect x="1356" y="410" width="3" height="7" fill="#6e9622"/>
<rect x="1357" y="411" width="1" height="5" fill="#79a033"/>
<rect x="1362" y="385" width="1" height="44" fill="#6e9622"/>
<rect x="1361" y="387" width="3" height="23" fill="#6e9622"/>
<rect x="1362" y="388" width="1" height="21" fill="#79a033"/>
<rect x="1367" y="406" width="1" height="59" fill="#a00000"/>
<rect x="1366" y="439" width="3" height="16" fill="#a00000"/>
<rect x="1372" y="437" width="1" height="41" fill="#a00000"/>
<rect x="1371" y="455" width="3" height="11" fill="#a00000"/>
<rect x="1377" y="274" width="1" height="274" fill="#a00000"/>
<rect x="1376" y="465" width="3" height="83" fill="#a00000"/>
<rect x="1382" y="516" width="1" height="63" fill="#a00000"/>
<rect x="1381" y="547" width="3" height="13" fill="#a00000"/>
<rect x="1387" y="537" width="1" height="66" fill="#a00000"/>
<rect x="1386" y="560" width="3" height="28" fill="#a00000"/>
<rect x="1392" y="595" width="1" height="93" fill="#a00000"/>
<rect x="1391" y="600" width="3" height="69" fill="#a00000"/>
<rect x="1397" y="612" width="1" height="72" fill="#a00000"/>
<rect x="1396" y="668" width="3" height="12" fill="#a00000"/>
<rect x="1402" y="652" width="1" height="66" fill="#a00000"/>
<rect x="1401" y="679" width="3" height="22" fill="#a00000"/>
<rect x="1407" y="661" width="1" height="89" fill="#a00000"/>
<rect x="1406" y="700" width="3" height="46" fill="#a00000"/>
<rect x="1412" y="733" width="1" height="53" fill="#a00000"/>
<rect x="1411" y="745" width="3" height="29" fill="#a00000"/>
<rect x="1417" y="729" width="1" height="50" fill="#6e9622"/>
<rect x="1416" y="744" width="3" height="26" fill="#6e9622"/>
<rect x="1417" y="745" width="1" height="24" fill="#79a033"/>
<rect x="1422" y="723" width="1" height="53" fill="#a00000"/>
<rect x="1421" y="744" width="3" height="2" fill="#a00000"/>
<rect x="1427" y="733" width="1" height="17" fill="#6e9622"/>
<rect x="1426" y="742" width="3" height="4" fill="#6e9622"/>
<rect x="1427" y="743" width="1" height="2" fill="#79a033"/>
</g>
<g shape-rendering="crispEdges" fill="#000">
<rect x="0" y="393" width="1" height="2"/>
<rect x="1" y="393" width="1" height="2"/>
<rect x="2" y="393" width="1" height="2"/>
<rect x="3" y="394" width="1" height="2"/>
<rect x="4" y="394" width="1" height="2"/>
<rect x="5" y="394" width="1" height="2"/>
<rect x="6" y="395" width="1" height="2"/>
<rect x="7" y="395" width="1" height="2"/>
<rect x="8" y="396" width="1" height="2"/>
<rect x="9" y="396" width="1" height="2"/>
<rect x="10" y="396" width="1" height="2"/>
<rect x="11" y="397" width="1" height="2"/>
<rect x="12" y="397" width="1" height="2"/>
<rect x="13" y="397" width="1" height="2"/>
<rect x="14" y="398" width="1" height="2"/>
<rect x="15" y="398" width="1" height="2"/>
<rect x="16" y="398" width="1" height="2"/>
<rect x="17" y="398" width="1" height="2"/>
<rect x="18" y="399" width="1" height="2"/>
<rect x="19" y="399" width="1" height="2"/>
<rect x="20" y="399" width="1" height="2"/>
<rect x="21" y="400" width="1" height="2"/>
<rect x="22" y="400" width="1" height="2"/>
<rect x="23" y="401" width="1" height="2"/>
<rect x="24" y="401" width="1" height="2"/>
<rect x="25" y="402" width="1" height="2"/>
<rect x="26" y="402" width="1" height="2"/>
<rect x="27" y="403" width="1" height="2"/>
<rect x="28" y="404" width="1" height="2"/>
<rect x="29" y="404" width="1" height="2"/>
<rect x="30" y="404" width="1" height="2"/>
<rect x="31" y="404" width="1" height="2"/>
<rect x="32" y="404" width="1" height="2"/>
<rect x="33" y="404" width="1" height="2"/>
<rect x="34" y="405" width="1" height="2"/>
<rect x="35" y="405" width="1" height="2"/>
<rect x="36" y="405" width="1" height="2"/>
<rect x="37" y="405" width="1" height="2"/>
<rect x="38" y="405" width="1" height="2"/>
<rect x="39" y="406" width="1" height="2"/>
<rect x="40" y="406" width="1" height="2"/>
<rect x="41" y="406" width="1" height="2"/>
<rect x="42" y="406" width="1" height="2"/>
<rect x="43" y="406" width="1" height="2"/>
<rect x="44" y="406" width="1" height="2"/>
<rect x="45" y="407" width="1" height="2"/>
<rect x="46" y="407" width="1" height="2"/>
<rect x="47" y="407" width="1" height="2"/>
<rect x="48" y="407" width="1" height="2"/>
<rect x="49" y="408" width="1" height="2"/>
<rect x="50" y="408" width="1" height="2"/>
<rect x="51" y="408" width="1" height="2"/>
<rect x="52" y="408" width="1" height="2"/>
<rect x="53" y="409" width="1" height="2"/>
<rect x="54" y="409" width="1" height="2"/>
<rect x="55" y="409" width="1" height="2"/>
<rect x="56" y="410" width="1" height="2"/>
<rect x="57" y="410" width="1" height="2"/>
<rect x="58" y="410" width="1" height="2"/>
<rect x="59" y="411" width="1" height="2"/>
<rect x="60" y="411" width="1" height="2"/>
<rect x="61" y="412" width="1" height="2"/>
<rect x="62" y="412" width="1" height="2"/>
<rect x="63" y="413" width="1" height="2"/>
<rect x="64" y="413" width="1" height="2"/>
<rect x="65" y="414" width="1" height="2"/>
<rect x="66" y="414" width="1" height="2"/>
<rect x="67" y="415" width="1" height="2"/>
<rect x="68" y="415" width="1" height="2"/>
<rect x="69" y="416" width="1" height="2"/>
<rect x="70" y="416" width="1" height="2"/>
<rect x="71" y="417" width="1" height="2"/>
<rect x="72" y="417" width="1" height="2"/>
<rect x="73" y="418" width="1" height="2"/>
<rect x="74" y="418" width="1" height="2"/>
<rect x="75" y="418" width="1" height="2"/>
<rect x="76" y="419" width="1" height="2"/>
<rect x="77" y="419" width="1" height="2"/>
<rect x="78" y="420" width="1" height="2"/>
<rect x="79" y="420" width="1" height="2"/>
<rect x="80" y="420" width="1" height="2"/>
<rect x="81" y="421" width="1" height="2"/>
<rect x="82" y="421" width="1" height="2"/>
<rect x="83" y="421" width="1" height="2"/>
<rect x="84" y="422" width="1" height="2"/>
<rect x="85" y="422" width="1" height="2"/>
<rect x="86" y="423" width="1" height="2"/>
<rect x="87" y="423" width="1" height="2"/>
<rect x="88" y="423" width="1" height="2"/>
<rect x="89" y="424" width="1" height="2"/>
<rect x="90" y="424" width="1" height="2"/>
<rect x="91" y="425" width="1" height="2"/>
<rect x="92" y="426" width="1" height="2"/>
<rect x="93" y="426" width="1" height="2"/>
<rect x="94" y="427" width="1" height="2"/>
<rect x="95" y="427" width="1" height="2"/>
<rect x="96" y="428" width="1" height="2"/>
<rect x="97" y="428" width="1" height="2"/>
<rect x="98" y="429" width="1" height="2"/>
<rect x="99" y="429" width="1" height="2"/>
<rect x="100" y="430" width="1" height="2"/>
<rect x="101" y="430" width="1" height="2"/>
<rect x="102" y="430" width="1" height="2"/>
<rect x="103" y="431" width="1" height="2"/>
<rect x="104" y="431" width="1" height="2"/>
<rect x="105" y="431" width="1" height="2"/>
<rect x="106" y="431" width="1" height="2"/>
<rect x="107" y="432" width="1" height="2"/>
<rect x="108" y="432" width="1" height="2"/>
<rect x="109" y="433" width="1" height="2"/>
<rect x="110" y="433" width="1" height="2"/>
<rect x="111" y="434" width="1" height="2"/>
<rect x="112" y="435" width="1" height="2"/>
<rect x="113" y="435" width="1" height="2"/>
<rect x="114" y="436" width="1" height="2"/>
<rect x="115" y="437" width="1" height="2"/>
<rect x="116" y="437" width="1" height="2"/>
<rect x="117" y="438" width="1" height="2"/>
<rect x="118" y="438" width="1" height="2"/>
<rect x="119" y="439" width="1" height="2"/>
<rect x="120" y="439" width="1" height="2"/>
<rect x="121" y="439" width="1" height="2"/>
<rect x="122" y="440" width="1" height="2"/>
<rect x="123" y="440" width="1" height="2"/>
<rect x="124" y="441" width="1" height="2"/>
<rect x="125" y="441" width="1" height="2"/>
<rect x="126" y="442" width="1" height="2"/>
<rect x="127" y="443" width="1" height="2"/>
<rect x="128" y="443" width="1" height="2"/>
<rect x="129" y="444" width="1" height="2"/>
<rect x="130" y="444" width="1" height="2"/>
<rect x="131" y="445" width="1" height="2"/>
<rect x="132" y="446" width="1" height="2"/>
<rect x="133" y="446" width="1" height="2"/>
<rect x="134" y="447" width="1" height="2"/>
<rect x="135" y="447" width="1" height="2"/>
<rect x="136" y="448" width="1" height="2"/>
<rect x="137" y="449" width="1" height="2"/>
<rect x="138" y="449" width="1" height="2"/>
<rect x="139" y="450" width="1" height="2"/>
<rect x="140" y="450" width="1" height="2"/>
<rect x="141" y="451" width="1" height="2"/>
<rect x="142" y="452" width="1" height="2"/>
<rect x="143" y="452" width="1" height="2"/>
<rect x="144" y="453" width="1" height="2"/>
<rect x="145" y="453" width="1" height="2"/>
<rect x="146" y="454" width="1" height="2"/>
<rect x="147" y="455" width="1" height="2"/>
<rect x="148" y="455" width="1" height="2"/>
<rect x="149" y="455" width="1" height="2"/>
<rect x="150" y="456" width="1" height="2"/>
<rect x="151" y="456" width="1" height="2"/>
<rect x="152" y="456" width="1" height="2"/>
<rect x="153" y="456" width="1" height="2"/>
<rect x="154" y="457" width="1" height="2"/>
<rect x="155" y="457" width="1" height="2"/>
<rect x="156" y="457" width="1" height="2"/>
<rect x="157" y="457" width="1" height="2"/>
<rect x="158" y="458" width="1" height="2"/>
<rect x="159" y="458" width="1" height="2"/>
<rect x="160" y="458" width="1" height="2"/>
<rect x="161" y="458" width="1" height="2"/>
<rect x="162" y="458" width="1" height="2"/>
<rect x="163" y="459" width="1" height="2"/>
<rect x="164" y="459" width="1" height="2"/>
<rect x="165" y="459" width="1" height="2"/>
<rect x="166" y="459" width="1" height="2"/>
<rect x="167" y="459" width="1" height="2"/>
<rect x="168" y="460" width="1" height="2"/>
<rect x="169" y="460" width="1" height="2"/>
<rect x="170" y="460" width="1" height="2"/>
<rect x="171" y="460" width="1" height="2"/>
<rect x="172" y="460" width="1" height="2"/>
<rect x="173" y="461" width="1" height="2"/>
<rect x="174" y="461" width="1" height="2"/>
<rect x="175" y="461" width="1" height="2"/>
<rect x="176" y="461" width="1" height="2"/>
<rect x="177" y="461" width="1" height="2"/>
<rect x="178" y="461" width="1" height="2"/>
<rect x="179" y="461" width="1" height="2"/>
<rect x="180" y="461" width="1" height="2"/>
<rect x="181" y="461" width="1" height="2"/>
<rect x="182" y="461" width="1" height="2"/>
<rect x="183" y="461" width="1" height="2"/>
<rect x="184" y="461" width="1" height="2"/>
<rect x="185" y="461" width="1" height="2"/>
<rect x="186" y="460" width="1" height="2"/>
<rect x="187" y="460" width="1" height="2"/>
<rect x="188" y="460" width="1" height="2"/>
<rect x="189" y="460" width="1" height="2"/>
<rect x="190" y="460" width="1" height="2"/>
<rect x="191" y="459" width="1" height="2"/>
<rect x="192" y="459" width="1" height="2"/>
<rect x="193" y="459" width="1" height="2"/>
<rect x="194" y="459" width="1" height="2"/>
<rect x="195" y="459" width="1" height="2"/>
<rect x="196" y="459" width="1" height="2"/>
<rect x="197" y="459" width="1" height="2"/>
<rect x="198" y="459" width="1" height="2"/>
<rect x="199" y="459" width="1" height="2"/>
<rect x="200" y="458" width="1" height="2"/>
<rect x="201" y="458" width="1" height="2"/>
<rect x="202" y="458" width="1" height="2"/>
<rect x="203" y="457" width="1" height="2"/>
<rect x="204" y="457" width="1" height="2"/>
<rect x="205" y="457" width="1" height="2"/>
<rect x="206" y="457" width="1" height="2"/>
<rect x="207" y="456" width="1" height="2"/>
<rect x="208" y="456" width="1" height="2"/>
<rect x="209" y="456" width="1" height="2"/>
<rect x="210" y="456" width="1" height="2"/>
<rect x="211" y="455" width="1" height="2"/>
<rect x="212" y="455" width="1" height="2"/>
<rect x="213" y="455" width="1" height="2"/>
<rect x="214" y="455" width="1" height="2"/>
<rect x="215" y="454" width="1" height="2"/>
<rect x="216" y="454" width="1" height="2"/>
<rect x="217" y="454" width="1" height="2"/>
<rect x="218" y="453" width="1" height="2"/>
<rect x="219" y="453" width="1" height="2"/>
<rect x="220" y="453" width="1" height="2"/>
<rect x="221" y="453" width="1" height="2"/>
<rect x="222" y="453" width="1" height="2"/>
<rect x="223" y="453" width="1" height="2"/>
<rect x="224" y="452" width="1" height="2"/>
<rect x="225" y="452" width="1" height="2"/>
<rect x="226" y="452" width="1" height="2"/>
<rect x="227" y="452" width="1" height="2"/>
<rect x="228" y="452" width="1" height="2"/>
<rect x="229" y="452" width="1" height="2"/>
<rect x="230" y="452" width="1" height="2"/>
<rect x="231" y="452" width="1" height="2"/>
<rect x="232" y="452" width="1" height="2"/>
<rect x="233" y="452" width="1" height="2"/>
<rect x="234" y="452" width="1" height="2"/>
<rect x="235" y="451" width="1" height="2"/>
<rect x="236" y="451" width="1" height="2"/>
<rect x="237" y="451" width="1" height="2"/>
<rect x="238" y="451" width="1" height="2"/>
<rect x="239" y="451" width="1" height="2"/>
<rect x="240" y="451" width="1" height="2"/>
<rect x="241" y="451" width="1" height="2"/>
<rect x="242" y="451" width="1" height="2"/>
<rect x="243" y="451" width="1" height="2"/>
<rect x="244" y="451" width="1" height="2"/>
<rect x="245" y="451" width="1" height="2"/>
<rect x="246" y="451" width="1" height="2"/>
<rect x="247" y="451" width="1" height="2"/>
<rect x="248" y="451" width="1" height="2"/>
<rect x="249" y="451" width="1" height="2"/>
<rect x="250" y="452" width="1" height="2"/>
<rect x="251" y="452" width="1" height="2"/>
<rect x="252" y="452" width="1" height="2"/>
<rect x="253" y="452" width="1" height="2"/>
<rect x="254" y="452" width="1" height="2"/>
<rect x="255" y="452" width="1" height="2"/>
<rect x="256" y="452" width="1" height="2"/>
<rect x="257" y="452" width="1" height="2"/>
<rect x="258" y="452" width="1" height="2"/>
<rect x="259" y="452" width="1" height="2"/>
<rect x="260" y="452" width="1" height="2"/>
<rect x="261" y="452" width="1" height="2"/>
<rect x="262" y="452" width="1" height="2"/>
<rect x="263" y="452" width="1" height="2"/>
<rect x="264" y="452" width="1" height="2"/>
<rect x="265" y="452" width="1" height="2"/>
<rect x="266" y="452" width="1" height="2"/>
<rect x="267" y="452" width="1" height="2"/>
<rect x="268" y="452" width="1" height="2"/>
<rect x="269" y="452" width="1" height="2"/>
<rect x="270" y="452" width="1" height="2"/>
<rect x="271" y="452" width="1" height="2"/>
<rect x="272" y="452" width="1" height="2"/>
<rect x="273" y="452" width="1" height="2"/>
<rect x="274" y="452" width="1" height="2"/>
<rect x="275" y="452" width="1" height="2"/>
<rect x="276" y="452" width="1" height="2"/>
<rect x="277" y="452" width="1" height="2"/>
<rect x="278" y="452" width="1" height="2"/>
<rect x="279" y="452" width="1" height="2"/>
<rect x="280" y="452" width="1" height="2"/>
<rect x="281" y="452" width="1" height="2"/>
<rect x="282" y="452" width="1" height="2"/>
<rect x="283" y="452" width="1" height="2"/>
<rect x="284" y="452" width="1" height="2"/>
<rect x="285" y="452" width="1" height="2"/>
<rect x="286" y="452" width="1" height="2"/>
<rect x="287" y="452" width="1" height="2"/>
<rect x="288" y="452" width="1" height="2"/>
<rect x="289" y="452" width="1" height="2"/>
<rect x="290" y="452" width="1" height="2"/>
<rect x="291" y="452" width="1" height="2"/>
<rect x="292" y="452" width="1" height="2"/>
<rect x="293" y="452" width="1" height="2"/>
<rect x="294" y="452" width="1" height="2"/>
<rect x="295" y="452" width="1" height="2"/>
<rect x="296" y="452" width="1" height="2"/>
<rect x="297" y="452" width="1" height="2"/>
<rect x="298" y="452" width="1" height="2"/>
<rect x="299" y="452" width="1" height="2"/>
<rect x="300" y="452" width="1" height="2"/>
<rect x="301" y="452" width="1" height="2"/>
<rect x="302" y="451" width="1" height="2"/>
<rect x="303" y="451" width="1" height="2"/>
<rect x="304" y="451" width="1" height="2"/>
<rect x="305" y="451" width="1" height="2"/>
<rect x="306" y="451" width="1" height="2"/>
<rect x="307" y="450" width="1" height="2"/>
<rect x="308" y="450" width="1" height="2"/>
<rect x="309" y="450" width="1" height="2"/>
<rect x="310" y="450" width="1" height="2"/>
<rect x="311" y="449" width="1" height="2"/>
<rect x="312" y="449" width="1" height="2"/>
<rect x="313" y="449" width="1" height="2"/>
<rect x="314" y="448" width="1" height="2"/>
<rect x="315" y="448" width="1" height="2"/>
<rect x="316" y="448" width="1" height="2"/>
<rect x="317" y="447" width="1" height="2"/>
<rect x="318" y="447" width="1" height="2"/>
<rect x="319" y="447" width="1" height="2"/>
<rect x="320" y="447" width="1" height="2"/>
<rect x="321" y="447" width="1" height="2"/>
<rect x="322" y="447" width="1" height="2"/>
<rect x="323" y="447" width="1" height="2"/>
<rect x="324" y="447" width="1" height="2"/>
<rect x="325" y="447" width="1" height="2"/>
<rect x="326" y="447" width="1" height="2"/>
<rect x="327" y="447" width="1" height="2"/>
<rect x="328" y="447" width="1" height="2"/>
<rect x="329" y="446" width="1" height="2"/>
<rect x="330" y="446" width="1" height="2"/>
<rect x="331" y="446" width="1" height="2"/>
<rect x="332" y="446" width="1" height="2"/>
<rect x="333" y="446" width="1" height="2"/>
<rect x="334" y="446" width="1" height="2"/>
<rect x="335" y="446" width="1" height="2"/>
<rect x="336" y="446" width="1" height="2"/>
<rect x="337" y="446" width="1" height="2"/>
<rect x="338" y="446" width="1" height="2"/>
<rect x="339" y="446" width="1" height="2"/>
<rect x="340" y="446" width="1" height="2"/>
<rect x="341" y="446" width="1" height="2"/>
<rect x="342" y="446" width="1" height="2"/>
<rect x="343" y="446" width="1" height="2"/>
<rect x="344" y="445" width="1" height="2"/>
<rect x="345" y="445" width="1" height="2"/>
<rect x="346" y="445" width="1" height="2"/>
<rect x="347" y="445" width="1" height="2"/>
<rect x="348" y="445" width="1" height="2"/>
<rect x="349" y="445" width="1" height="2"/>
<rect x="350" y="445" width="1" height="2"/>
<rect x="351" y="445" width="1" height="2"/>
<rect x="352" y="445" width="1" height="2"/>
<rect x="353" y="445" width="1" height="2"/>
<rect x="354" y="445" width="1" height="2"/>
<rect x="355" y="445" width="1" height="2"/>
<rect x="356" y="445" width="1" height="2"/>
<rect x="357" y="445" width="1" height="2"/>
<rect x="358" y="445" width="1" height="2"/>
<rect x="359" y="445" width="1" height="2"/>
<rect x="360" y="445" width="1" height="2"/>
<rect x="361" y="445" width="1" height="2"/>
<rect x="362" y="445" width="1" height="2"/>
<rect x="363" y="445" width="1" height="2"/>
<rect x="364" y="445" width="1" height="2"/>
<rect x="365" y="445" width="1" height="2"/>
<rect x="366" y="445" width="1" height="2"/>
<rect x="367" y="445" width="1" height="2"/>
<rect x="368" y="445" width="1" height="2"/>
<rect x="369" y="445" width="1" height="2"/>
<rect x="370" y="445" width="1" height="2"/>
<rect x="371" y="445" width="1" height="2"/>
<rect x="372" y="445" width="1" height="2"/>
<rect x="373" y="445" width="1" height="2"/>
<rect x="374" y="445" width="1" height="2"/>
<rect x="375" y="445" width="1" height="2"/>
<rect x="376" y="445" width="1" height="2"/>
<rect x="377" y="445" width="1" height="2"/>
<rect x="378" y="445" width="1" height="2"/>
<rect x="379" y="445" width="1" height="2"/>
<rect x="380" y="445" width="1" height="2"/>
<rect x="381" y="445" width="1" height="2"/>
<rect x="382" y="445" width="1" height="2"/>
<rect x="383" y="445" width="1" height="2"/>
<rect x="384" y="445" width="1" height="2"/>
<rect x="385" y="445" width="1" height="2"/>
<rect x="386" y="445" width="1" height="2"/>
<rect x="387" y="445" width="1" height="2"/>
<rect x="388" y="445" width="1" height="2"/>
<rect x="389" y="445" width="1" height="2"/>
<rect x="390" y="445" width="1" height="2"/>
<rect x="391" y="445" width="1" height="2"/>
<rect x="392" y="445" width="1" height="2"/>
<rect x="393" y="445" width="1" height="2"/>
<rect x="394" y="445" width="1" height="2"/>
<rect x="395" y="445" width="1" height="2"/>
<rect x="396" y="445" width="1" height="2"/>
<rect x="397" y="445" width="1" height="2"/>
<rect x="398" y="445" width="1" height="2"/>
<rect x="399" y="445" width="1" height="2"/>
<rect x="400" y="445" width="1" height="2"/>
<rect x="401" y="445" width="1" height="2"/>
<rect x="402" y="445" width="1" height="2"/>
<rect x="403" y="445" width="1" height="2"/>
<rect x="404" y="445" width="1" height="2"/>
<rect x="405" y="445" width="1" height="2"/>
<rect x="406" y="445" width="1" height="2"/>
<rect x="407" y="445" width="1" height="2"/>
<rect x="408" y="445" width="1" height="2"/>
<rect x="409" y="445" width="1" height="2"/>
<rect x="410" y="445" width="1" height="2"/>
<rect x="411" y="445" width="1" height="2"/>
<rect x="412" y="445" width="1" height="2"/>
<rect x="413" y="445" width="1" height="2"/>
<rect x="414" y="445" width="1" height="2"/>
<rect x="415" y="445" width="1" height="2"/>
<rect x="416" y="445" width="1" height="2"/>
<rect x="417" y="445" width="1" height="2"/>
<rect x="418" y="445" width="1" height="2"/>
<rect x="419" y="445" width="1" height="2"/>
<rect x="420" y="445" width="1" height="2"/>
<rect x="421" y="445" width="1" height="2"/>
<rect x="422" y="445" width="1" height="2"/>
<rect x="423" y="445" width="1" height="2"/>
<rect x="424" y="446" width="1" height="2"/>
<rect x="425" y="446" width="1" height="2"/>
<rect x="426" y="446" width="1" height="2"/>
<rect x="427" y="446" width="1" height="2"/>
<rect x="428" y="446" width="1" height="2"/>
<rect x="429" y="446" width="1" height="2"/>
<rect x="430" y="447" width="1" height="2"/>
<rect x="431" y="447" width="1" height="2"/>
<rect x="432" y="447" width="1" height="2"/>
<rect x="433" y="447" width="1" height="2"/>
<rect x="434" y="447" width="1" height="2"/>
<rect x="435" y="447" width="1" height="2"/>
<rect x="436" y="448" width="1" height="2"/>
<rect x="437" y="448" width="1" height="2"/>
<rect x="438" y="448" width="1" height="2"/>
<rect x="439" y="449" width="1" height="2"/>
<rect x="440" y="449" width="1" height="2"/>
<rect x="441" y="449" width="1" height="2"/>
<rect x="442" y="449" width="1" height="2"/>
<rect x="443" y="449" width="1" height="2"/>
<rect x="444" y="449" width="1" height="2"/>
<rect x="445" y="449" width="1" height="2"/>
<rect x="446" y="449" width="1" height="2"/>
<rect x="447" y="449" width="1" height="2"/>
<rect x="448" y="450" width="1" height="2"/>
<rect x="449" y="450" width="1" height="2"/>
<rect x="450" y="450" width="1" height="2"/>
<rect x="451" y="450" width="1" height="2"/>
<rect x="452" y="450" width="1" height="2"/>
<rect x="453" y="450" width="1" height="2"/>
<rect x="454" y="450" width="1" height="2"/>
<rect x="455" y="450" width="1" height="2"/>
<rect x="456" y="450" width="1" height="2"/>
<rect x="457" y="450" width="1" height="2"/>
<rect x="458" y="450" width="1" height="2"/>
<rect x="459" y="450" width="1" height="2"/>
<rect x="460" y="450" width="1" height="2"/>
<rect x="461" y="450" width="1" height="2"/>
<rect x="462" y="450" width="1" height="2"/>
<rect x="463" y="450" width="1" height="2"/>
<rect x="464" y="451" width="1" height="2"/>
<rect x="465" y="451" width="1" height="2"/>
<rect x="466" y="451" width="1" height="2"/>
<rect x="467" y="451" width="1" height="2"/>
<rect x="468" y="451" width="1" height="2"/>
<rect x="469" y="451" width="1" height="2"/>
<rect x="470" y="451" width="1" height="2"/>
<rect x="471" y="451" width="1" height="2"/>
<rect x="472" y="451" width="1" height="2"/>
<rect x="473" y="451" width="1" height="2"/>
<rect x="474" y="451" width="1" height="2"/>
<rect x="475" y="451" width="1" height="2"/>
<rect x="476" y="451" width="1" height="2"/>
<rect x="477" y="451" width="1" height="2"/>
<rect x="478" y="451" width="1" height="2"/>
<rect x="479" y="451" width="1" height="2"/>
<rect x="480" y="451" width="1" height="2"/>
<rect x="481" y="451" width="1" height="2"/>
<rect x="482" y="451" width="1" height="2"/>
<rect x="483" y="451" width="1" height="2"/>
<rect x="484" y="451" width="1" height="2"/>
<rect x="485" y="451" width="1" height="2"/>
<rect x="486" y="451" width="1" height="2"/>
<rect x="487" y="451" width="1" height="2"/>
<rect x="488" y="451" width="1" height="2"/>
<rect x="489" y="451" width="1" height="2"/>
<rect x="490" y="451" width="1" height="2"/>
<rect x="491" y="450" width="1" height="2"/>
<rect x="492" y="450" width="1" height="2"/>
<rect x="493" y="450" width="1" height="2"/>
<rect x="494" y="451" width="1" height="2"/>
<rect x="495" y="451" width="1" height="2"/>
<rect x="496" y="451" width="1" height="2"/>
<rect x="497" y="452" width="1" height="2"/>
<rect x="498" y="452" width="1" height="2"/>
<rect x="499" y="452" width="1" height="2"/>
<rect x="500" y="452" width="1" height="2"/>
<rect x="501" y="452" width="1" height="2"/>
<rect x="502" y="452" width="1" height="2"/>
<rect x="503" y="452" width="1" height="2"/>
<rect x="504" y="452" width="1" height="2"/>
<rect x="505" y="452" width="1" height="2"/>
<rect x="506" y="452" width="1" height="2"/>
<rect x="507" y="452" width="1" height="2"/>
<rect x="508" y="452" width="1" height="2"/>
<rect x="509" y="452" width="1" height="2"/>
<rect x="510" y="452" width="1" height="2"/>
<rect x="511" y="452" width="1" height="2"/>
<rect x="512" y="452" width="1" height="2"/>
<rect x="513" y="452" width="1" height="2"/>
<rect x="514" y="452" width="1" height="2"/>
<rect x="515" y="452" width="1" height="2"/>
<rect x="516" y="452" width="1" height="2"/>
<rect x="517" y="452" width="1" height="2"/>
<rect x="518" y="453" width="1" height="2"/>
<rect x="519" y="453" width="1" height="2"/>
<rect x="520" y="453" width="1" height="2"/>
<rect x="521" y="453" width="1" height="2"/>
<rect x="522" y="453" width="1" height="2"/>
<rect x="523" y="453" width="1" height="2"/>
<rect x="524" y="453" width="1" height="2"/>
<rect x="525" y="453" width="1" height="2"/>
<rect x="526" y="453" width="1" height="2"/>
<rect x="527" y="453" width="1" height="2"/>
<rect x="528" y="453" width="1" height="2"/>
<rect x="529" y="453" width="1" height="2"/>
<rect x="530" y="453" width="1" height="2"/>
<rect x="531" y="453" width="1" height="2"/>
<rect x="532" y="453" width="1" height="2"/>
<rect x="533" y="453" width="1" height="2"/>
<rect x="534" y="453" width="1" height="2"/>
<rect x="535" y="453" width="1" height="2"/>
<rect x="536" y="453" width="1" height="2"/>
<rect x="537" y="453" width="1" height="2"/>
<rect x="538" y="453" width="1" height="2"/>
<rect x="539" y="453" width="1" height="2"/>
<rect x="540" y="453" width="1" height="2"/>
<rect x="541" y="453" width="1" height="2"/>
<rect x="542" y="453" width="1" height="2"/>
<rect x="543" y="453" width="1" height="2"/>
<rect x="544" y="453" width="1" height="2"/>
<rect x="545" y="453" width="1" height="2"/>
<rect x="546" y="453" width="1" height="2"/>
<rect x="547" y="453" width="1" height="2"/>
<rect x="548" y="453" width="1" height="2"/>
<rect x="549" y="453" width="1" height="2"/>
<rect x="550" y="454" width="1" height="2"/>
<rect x="551" y="454" width="1" height="2"/>
<rect x="552" y="454" width="1" height="2"/>
<rect x="553" y="455" width="1" height="2"/>
<rect x="554" y="455" width="1" height="2"/>
<rect x="555" y="455" width="1" height="2"/>
<rect x="556" y="455" width="1" height="2"/>
<rect x="557" y="455" width="1" height="2"/>
<rect x="558" y="455" width="1" height="2"/>
<rect x="559" y="455" width="1" height="2"/>
<rect x="560" y="455" width="1" height="2"/>
<rect x="561" y="455" width="1" height="2"/>
<rect x="562" y="456" width="1" height="2"/>
<rect x="563" y="456" width="1" height="2"/>
<rect x="564" y="456" width="1" height="2"/>
<rect x="565" y="456" width="1" height="2"/>
<rect x="566" y="456" width="1" height="2"/>
<rect x="567" y="456" width="1" height="2"/>
<rect x="568" y="456" width="1" height="2"/>
<rect x="569" y="456" width="1" height="2"/>
<rect x="570" y="456" width="1" height="2"/>
<rect x="571" y="455" width="1" height="2"/>
<rect x="572" y="455" width="1" height="2"/>
<rect x="573" y="455" width="1" height="2"/>
<rect x="574" y="455" width="1" height="2"/>
<rect x="575" y="455" width="1" height="2"/>
<rect x="576" y="455" width="1" height="2"/>
<rect x="577" y="454" width="1" height="2"/>
<rect x="578" y="454" width="1" height="2"/>
<rect x="579" y="454" width="1" height="2"/>
<rect x="580" y="454" width="1" height="2"/>
<rect x="581" y="454" width="1" height="2"/>
<rect x="582" y="454" width="1" height="2"/>
<rect x="583" y="453" width="1" height="2"/>
<rect x="584" y="453" width="1" height="2"/>
<rect x="585" y="453" width="1" height="2"/>
<rect x="586" y="453" width="1" height="2"/>
<rect x="587" y="453" width="1" height="2"/>
<rect x="588" y="453" width="1" height="2"/>
<rect x="589" y="453" width="1" height="2"/>
<rect x="590" y="453" width="1" height="2"/>
<rect x="591" y="453" width="1" height="2"/>
<rect x="592" y="453" width="1" height="2"/>
<rect x="593" y="452" width="1" height="2"/>
<rect x="594" y="452" width="1" height="2"/>
<rect x="595" y="452" width="1" height="2"/>
<rect x="596" y="452" width="1" height="2"/>
<rect x="597" y="452" width="1" height="2"/>
<rect x="598" y="452" width="1" height="2"/>
<rect x="599" y="452" width="1" height="2"/>
<rect x="600" y="451" width="1" height="2"/>
<rect x="601" y="451" width="1" height="2"/>
<rect x="602" y="451" width="1" height="2"/>
<rect x="603" y="451" width="1" height="2"/>
<rect x="604" y="450" width="1" height="2"/>
<rect x="605" y="450" width="1" height="2"/>
<rect x="606" y="450" width="1" height="2"/>
<rect x="607" y="450" width="1" height="2"/>
<rect x="608" y="449" width="1" height="2"/>
<rect x="609" y="449" width="1" height="2"/>
<rect x="610" y="449" width="1" height="2"/>
<rect x="611" y="448" width="1" height="2"/>
<rect x="612" y="448" width="1" height="2"/>
<rect x="613" y="448" width="1" height="2"/>
<rect x="614" y="448" width="1" height="2"/>
<rect x="615" y="447" width="1" height="2"/>
<rect x="616" y="447" width="1" height="2"/>
<rect x="617" y="447" width="1" height="2"/>
<rect x="618" y="446" width="1" height="2"/>
<rect x="619" y="446" width="1" height="2"/>
<rect x="620" y="446" width="1" height="2"/>
<rect x="621" y="446" width="1" height="2"/>
<rect x="622" y="446" width="1" height="2"/>
<rect x="623" y="446" width="1" height="2"/>
<rect x="624" y="446" width="1" height="2"/>
<rect x="625" y="445" width="1" height="2"/>
<rect x="626" y="445" width="1" height="2"/>
<rect x="627" y="445" width="1" height="2"/>
<rect x="628" y="445" width="1" height="2"/>
<rect x="629" y="445" width="1" height="2"/>
<rect x="630" y="445" width="1" height="2"/>
<rect x="631" y="445" width="1" height="2"/>
<rect x="632" y="445" width="1" height="2"/>
<rect x="633" y="445" width="1" height="2"/>
<rect x="634" y="444" width="1" height="2"/>
<rect x="635" y="444" width="1" height="2"/>
<rect x="636" y="444" width="1" height="2"/>
<rect x="637" y="444" width="1" height="2"/>
<rect x="638" y="444" width="1" height="2"/>
<rect x="639" y="443" width="1" height="2"/>
<rect x="640" y="443" width="1" height="2"/>
<rect x="641" y="443" width="1" height="2"/>
<rect x="642" y="443" width="1" height="2"/>
<rect x="643" y="443" width="1" height="2"/>
<rect x="644" y="443" width="1" height="2"/>
<rect x="645" y="442" width="1" height="2"/>
<rect x="646" y="442" width="1" height="2"/>
<rect x="647" y="442" width="1" height="2"/>
<rect x="648" y="442" width="1" height="2"/>
<rect x="649" y="442" width="1" height="2"/>
<rect x="650" y="441" width="1" height="2"/>
<rect x="651" y="441" width="1" height="2"/>
<rect x="652" y="441" width="1" height="2"/>
<rect x="653" y="440" width="1" height="2"/>
<rect x="654" y="440" width="1" height="2"/>
<rect x="655" y="440" width="1" height="2"/>
<rect x="656" y="439" width="1" height="2"/>
<rect x="657" y="439" width="1" height="2"/>
<rect x="658" y="439" width="1" height="2"/>
<rect x="659" y="438" width="1" height="2"/>
<rect x="660" y="438" width="1" height="2"/>
<rect x="661" y="438" width="1" height="2"/>
<rect x="662" y="437" width="1" height="2"/>
<rect x="663" y="437" width="1" height="2"/>
<rect x="664" y="437" width="1" height="2"/>
<rect x="665" y="436" width="1" height="2"/>
<rect x="666" y="436" width="1" height="2"/>
<rect x="667" y="436" width="1" height="2"/>
<rect x="668" y="436" width="1" height="2"/>
<rect x="669" y="436" width="1" height="2"/>
<rect x="670" y="435" width="1" height="2"/>
<rect x="671" y="435" width="1" height="2"/>
<rect x="672" y="435" width="1" height="2"/>
<rect x="673" y="435" width="1" height="2"/>
<rect x="674" y="435" width="1" height="2"/>
<rect x="675" y="435" width="1" height="2"/>
<rect x="676" y="434" width="1" height="2"/>
<rect x="677" y="434" width="1" height="2"/>
<rect x="678" y="434" width="1" height="2"/>
<rect x="679" y="434" width="1" height="2"/>
<rect x="680" y="434" width="1" height="2"/>
<rect x="681" y="433" width="1" height="2"/>
<rect x="682" y="433" width="1" height="2"/>
<rect x="683" y="433" width="1" height="2"/>
<rect x="684" y="432" width="1" height="2"/>
<rect x="685" y="432" width="1" height="2"/>
<rect x="686" y="431" width="1" height="2"/>
<rect x="687" y="431" width="1" height="2"/>
<rect x="688" y="430" width="1" height="2"/>
<rect x="689" y="430" width="1" height="2"/>
<rect x="690" y="429" width="1" height="2"/>
<rect x="691" y="429" width="1" height="2"/>
<rect x="692" y="429" width="1" height="2"/>
<rect x="693" y="428" width="1" height="2"/>
<rect x="694" y="428" width="1" height="2"/>
<rect x="695" y="428" width="1" height="2"/>
<rect x="696" y="427" width="1" height="2"/>
<rect x="697" y="427" width="1" height="2"/>
<rect x="698" y="427" width="1" height="2"/>
<rect x="699" y="426" width="1" height="2"/>
<rect x="700" y="426" width="1" height="2"/>
<rect x="701" y="426" width="1" height="2"/>
<rect x="702" y="425" width="1" height="2"/>
<rect x="703" y="425" width="1" height="2"/>
<rect x="704" y="425" width="1" height="2"/>
<rect x="705" y="424" width="1" height="2"/>
<rect x="706" y="424" width="1" height="2"/>
<rect x="707" y="424" width="1" height="2"/>
<rect x="708" y="424" width="1" height="2"/>
<rect x="709" y="423" width="1" height="2"/>
<rect x="710" y="423" width="1" height="2"/>
<rect x="711" y="423" width="1" height="2"/>
<rect x="712" y="423" width="1" height="2"/>
<rect x="713" y="422" width="1" height="2"/>
<rect x="714" y="422" width="1" height="2"/>
<rect x="715" y="422" width="1" height="2"/>
<rect x="716" y="422" width="1" height="2"/>
<rect x="717" y="421" width="1" height="2"/>
<rect x="718" y="421" width="1" height="2"/>
<rect x="719" y="421" width="1" height="2"/>
<rect x="720" y="421" width="1" height="2"/>
<rect x="721" y="420" width="1" height="2"/>
<rect x="722" y="420" width="1" height="2"/>
<rect x="723" y="420" width="1" height="2"/>
<rect x="724" y="419" width="1" height="2"/>
<rect x="725" y="419" width="1" height="2"/>
<rect x="726" y="418" width="1" height="2"/>
<rect x="727" y="418" width="1" height="2"/>
<rect x="728" y="417" width="1" height="2"/>
<rect x="729" y="417" width="1" height="2"/>
<rect x="730" y="416" width="1" height="2"/>
<rect x="731" y="416" width="1" height="2"/>
<rect x="732" y="416" width="1" height="2"/>
<rect x="733" y="415" width="1" height="2"/>
<rect x="734" y="415" width="1" height="2"/>
<rect x="735" y="415" width="1" height="2"/>
<rect x="736" y="415" width="1" height="2"/>
<rect x="737" y="415" width="1" height="2"/>
<rect x="738" y="414" width="1" height="2"/>
<rect x="739" y="414" width="1" height="2"/>
<rect x="740" y="414" width="1" height="2"/>
<rect x="741" y="414" width="1" height="2"/>
<rect x="742" y="414" width="1" height="2"/>
<rect x="743" y="413" width="1" height="2"/>
<rect x="744" y="413" width="1" height="2"/>
<rect x="745" y="413" width="1" height="2"/>
<rect x="746" y="413" width="1" height="2"/>
<rect x="747" y="413" width="1" height="2"/>
<rect x="748" y="413" width="1" height="2"/>
<rect x="749" y="413" width="1" height="2"/>
<rect x="750" y="413" width="1" height="2"/>
<rect x="751" y="413" width="1" height="2"/>
<rect x="752" y="413" width="1" height="2"/>
<rect x="753" y="412" width="1" height="2"/>
<rect x="754" y="412" width="1" height="2"/>
<rect x="755" y="412" width="1" height="2"/>
<rect x="756" y="412" width="1" height="2"/>
<rect x="757" y="412" width="1" height="2"/>
<rect x="758" y="412" width="1" height="2"/>
<rect x="759" y="412" width="1" height="2"/>
<rect x="760" y="412" width="1" height="2"/>
<rect x="761" y="412" width="1" height="2"/>
<rect x="762" y="412" width="1" height="2"/>
<rect x="763" y="412" width="1" height="2"/>
<rect x="764" y="412" width="1" height="2"/>
<rect x="765" y="412" width="1" height="2"/>
<rect x="766" y="411" width="1" height="2"/>
<rect x="767" y="411" width="1" height="2"/>
<rect x="768" y="411" width="1" height="2"/>
<rect x="769" y="411" width="1" height="2"/>
<rect x="770" y="411" width="1" height="2"/>
<rect x="771" y="411" width="1" height="2"/>
<rect x="772" y="411" width="1" height="2"/>
<rect x="773" y="411" width="1" height="2"/>
<rect x="774" y="411" width="1" height="2"/>
<rect x="775" y="411" width="1" height="2"/>
<rect x="776" y="411" width="1" height="2"/>
<rect x="777" y="411" width="1" height="2"/>
<rect x="778" y="411" width="1" height="2"/>
<rect x="779" y="411" width="1" height="2"/>
<rect x="780" y="411" width="1" height="2"/>
<rect x="781" y="411" width="1" height="2"/>
<rect x="782" y="411" width="1" height="2"/>
<rect x="783" y="411" width="1" height="2"/>
<rect x="784" y="411" width="1" height="2"/>
<rect x="785" y="412" width="1" height="2"/>
<rect x="786" y="412" width="1" height="2"/>
<rect x="787" y="413" width="1" height="2"/>
<rect x="788" y="413" width="1" height="2"/>
<rect x="789" y="413" width="1" height="2"/>
<rect x="790" y="414" width="1" height="2"/>
<rect x="791" y="414" width="1" height="2"/>
<rect x="792" y="414" width="1" height="2"/>
<rect x="793" y="414" width="1" height="2"/>
<rect x="794" y="415" width="1" height="2"/>
<rect x="795" y="415" width="1" height="2"/>
<rect x="796" y="415" width="1" height="2"/>
<rect x="797" y="415" width="1" height="2"/>
<rect x="798" y="415" width="1" height="2"/>
<rect x="799" y="416" width="1" height="2"/>
<rect x="800" y="416" width="1" height="2"/>
<rect x="801" y="416" width="1" height="2"/>
<rect x="802" y="416" width="1" height="2"/>
<rect x="803" y="416" width="1" height="2"/>
<rect x="804" y="416" width="1" height="2"/>
<rect x="805" y="416" width="1" height="2"/>
<rect x="806" y="416" width="1" height="2"/>
<rect x="807" y="415" width="1" height="2"/>
<rect x="808" y="415" width="1" height="2"/>
<rect x="809" y="415" width="1" height="2"/>
<rect x="810" y="415" width="1" height="2"/>
<rect x="811" y="415" width="1" height="2"/>
<rect x="812" y="415" width="1" height="2"/>
<rect x="813" y="415" width="1" height="2"/>
<rect x="814" y="415" width="1" height="2"/>
<rect x="815" y="415" width="1" height="2"/>
<rect x="816" y="415" width="1" height="2"/>
<rect x="817" y="415" width="1" height="2"/>
<rect x="818" y="415" width="1" height="2"/>
<rect x="819" y="415" width="1" height="2"/>
<rect x="820" y="415" width="1" height="2"/>
<rect x="821" y="414" width="1" height="2"/>
<rect x="822" y="414" width="1" height="2"/>
<rect x="823" y="414" width="1" height="2"/>
<rect x="824" y="414" width="1" height="2"/>
<rect x="825" y="414" width="1" height="2"/>
<rect x="826" y="414" width="1" height="2"/>
<rect x="827" y="414" width="1" height="2"/>
<rect x="828" y="414" width="1" height="2"/>
<rect x="829" y="413" width="1" height="2"/>
<rect x="830" y="413" width="1" height="2"/>
<rect x="831" y="413" width="1" height="2"/>
<rect x="832" y="413" width="1" height="2"/>
<rect x="833" y="413" width="1" height="2"/>
<rect x="834" y="413" width="1" height="2"/>
<rect x="835" y="413" width="1" height="2"/>
<rect x="836" y="413" width="1" height="2"/>
<rect x="837" y="413" width="1" height="2"/>
<rect x="838" y="413" width="1" height="2"/>
<rect x="839" y="413" width="1" height="2"/>
<rect x="840" y="413" width="1" height="2"/>
<rect x="841" y="413" width="1" height="2"/>
<rect x="842" y="413" width="1" height="2"/>
<rect x="843" y="413" width="1" height="2"/>
<rect x="844" y="413" width="1" height="2"/>
<rect x="845" y="413" width="1" height="2"/>
<rect x="846" y="413" width="1" height="2"/>
<rect x="847" y="413" width="1" height="2"/>
<rect x="848" y="413" width="1" height="2"/>
<rect x="849" y="413" width="1" height="2"/>
<rect x="850" y="413" width="1" height="2"/>
<rect x="851" y="413" width="1" height="2"/>
<rect x="852" y="413" width="1" height="2"/>
<rect x="853" y="413" width="1" height="2"/>
<rect x="854" y="413" width="1" height="2"/>
<rect x="855" y="413" width="1" height="2"/>
<rect x="856" y="413" width="1" height="2"/>
<rect x="857" y="413" width="1" height="2"/>
<rect x="858" y="413" width="1" height="2"/>
<rect x="859" y="413" width="1" height="2"/>
<rect x="860" y="413" width="1" height="2"/>
<rect x="861" y="413" width="1" height="2"/>
<rect x="862" y="413" width="1" height="2"/>
<rect x="863" y="413" width="1" height="2"/>
<rect x="864" y="413" width="1" height="2"/>
<rect x="865" y="413" width="1" height="2"/>
<rect x="866" y="413" width="1" height="2"/>
<rect x="867" y="413" width="1" height="2"/>
<rect x="868" y="413" width="1" height="2"/>
<rect x="869" y="413" width="1" height="2"/>
<rect x="870" y="413" width="1" height="2"/>
<rect x="871" y="413" width="1" height="2"/>
<rect x="872" y="413" width="1" height="2"/>
<rect x="873" y="413" width="1" height="2"/>
<rect x="874" y="413" width="1" height="2"/>
<rect x="875" y="413" width="1" height="2"/>
<rect x="876" y="413" width="1" height="2"/>
<rect x="877" y="413" width="1" height="2"/>
<rect x="878" y="413" width="1" height="2"/>
<rect x="879" y="413" width="1" height="2"/>
<rect x="880" y="413" width="1" height="2"/>
<rect x="881" y="413" width="1" height="2"/>
<rect x="882" y="413" width="1" height="2"/>
<rect x="883" y="413" width="1" height="2"/>
<rect x="884" y="413" width="1" height="2"/>
<rect x="885" y="414" width="1" height="2"/>
<rect x="886" y="414" width="1" height="2"/>
<rect x="887" y="414" width="1" height="2"/>
<rect x="888" y="415" width="1" height="2"/>
<rect x="889" y="415" width="1" height="2"/>
<rect x="890" y="415" width="1" height="2"/>
<rect x="891" y="415" width="1" height="2"/>
<rect x="892" y="415" width="1" height="2"/>
<rect x="893" y="415" width="1" height="2"/>
<rect x="894" y="415" width="1" height="2"/>
<rect x="895" y="415" width="1" height="2"/>
<rect x="896" y="415" width="1" height="2"/>
<rect x="897" y="415" width="1" height="2"/>
<rect x="898" y="415" width="1" height="2"/>
<rect x="899" y="415" width="1" height="2"/>
<rect x="900" y="415" width="1" height="2"/>
<rect x="901" y="415" width="1" height="2"/>
<rect x="902" y="415" width="1" height="2"/>
<rect x="903" y="415" width="1" height="2"/>
<rect x="904" y="415" width="1" height="2"/>
<rect x="905" y="415" width="1" height="2"/>
<rect x="906" y="415" width="1" height="2"/>
<rect x="907" y="415" width="1" height="2"/>
<rect x="908" y="415" width="1" height="2"/>
<rect x="909" y="415" width="1" height="2"/>
<rect x="910" y="415" width="1" height="2"/>
<rect x="911" y="415" width="1" height="2"/>
<rect x="912" y="416" width="1" height="2"/>
<rect x="913" y="416" width="1" height="2"/>
<rect x="914" y="416" width="1" height="2"/>
<rect x="915" y="416" width="1" height="2"/>
<rect x="916" y="416" width="1" height="2"/>
<rect x="917" y="416" width="1" height="2"/>
<rect x="918" y="417" width="1" height="2"/>
<rect x="919" y="417" width="1" height="2"/>
<rect x="920" y="417" width="1" height="2"/>
<rect x="921" y="417" width="1" height="2"/>
<rect x="922" y="417" width="1" height="2"/>
<rect x="923" y="417" width="1" height="2"/>
<rect x="924" y="417" width="1" height="2"/>
<rect x="925" y="417" width="1" height="2"/>
<rect x="926" y="417" width="1" height="2"/>
<rect x="927" y="417" width="1" height="2"/>
<rect x="928" y="417" width="1" height="2"/>
<rect x="929" y="417" width="1" height="2"/>
<rect x="930" y="417" width="1" height="2"/>
<rect x="931" y="417" width="1" height="2"/>
<rect x="932" y="418" width="1" height="2"/>
<rect x="933" y="418" width="1" height="2"/>
<rect x="934" y="418" width="1" height="2"/>
<rect x="935" y="418" width="1" height="2"/>
<rect x="936" y="418" width="1" height="2"/>
<rect x="937" y="418" width="1" height="2"/>
<rect x="938" y="418" width="1" height="2"/>
<rect x="939" y="418" width="1" height="2"/>
<rect x="940" y="418" width="1" height="2"/>
<rect x="941" y="418" width="1" height="2"/>
<rect x="942" y="418" width="1" height="2"/>
<rect x="943" y="418" width="1" height="2"/>
<rect x="944" y="418" width="1" height="2"/>
<rect x="945" y="419" width="1" height="2"/>
<rect x="946" y="419" width="1" height="2"/>
<rect x="947" y="419" width="1" height="2"/>
<rect x="948" y="419" width="1" height="2"/>
<rect x="949" y="420" width="1" height="2"/>
<rect x="950" y="420" width="1" height="2"/>
<rect x="951" y="420" width="1" height="2"/>
<rect x="952" y="420" width="1" height="2"/>
<rect x="953" y="420" width="1" height="2"/>
<rect x="954" y="420" width="1" height="2"/>
<rect x="955" y="420" width="1" height="2"/>
<rect x="956" y="420" width="1" height="2"/>
<rect x="957" y="421" width="1" height="2"/>
<rect x="958" y="421" width="1" height="2"/>
<rect x="959" y="421" width="1" height="2"/>
<rect x="960" y="421" width="1" height="2"/>
<rect x="961" y="421" width="1" height="2"/>
<rect x="962" y="421" width="1" height="2"/>
<rect x="963" y="422" width="1" height="2"/>
<rect x="964" y="422" width="1" height="2"/>
<rect x="965" y="422" width="1" height="2"/>
<rect x="966" y="422" width="1" height="2"/>
<rect x="967" y="422" width="1" height="2"/>
<rect x="968" y="423" width="1" height="2"/>
<rect x="969" y="423" width="1" height="2"/>
<rect x="970" y="423" width="1" height="2"/>
<rect x="971" y="423" width="1" height="2"/>
<rect x="972" y="423" width="1" height="2"/>
<rect x="973" y="424" width="1" height="2"/>
<rect x="974" y="424" width="1" height="2"/>
<rect x="975" y="424" width="1" height="2"/>
<rect x="976" y="424" width="1" height="2"/>
<rect x="977" y="424" width="1" height="2"/>
<rect x="978" y="425" width="1" height="2"/>
<rect x="979" y="425" width="1" height="2"/>
<rect x="980" y="425" width="1" height="2"/>
<rect x="981" y="425" width="1" height="2"/>
<rect x="982" y="425" width="1" height="2"/>
<rect x="983" y="426" width="1" height="2"/>
<rect x="984" y="426" width="1" height="2"/>
<rect x="985" y="426" width="1" height="2"/>
<rect x="986" y="427" width="1" height="2"/>
<rect x="987" y="427" width="1" height="2"/>
<rect x="988" y="427" width="1" height="2"/>
<rect x="989" y="428" width="1" height="2"/>
<rect x="990" y="428" width="1" height="2"/>
<rect x="991" y="428" width="1" height="2"/>
<rect x="992" y="429" width="1" height="2"/>
<rect x="993" y="429" width="1" height="2"/>
<rect x="994" y="429" width="1" height="2"/>
<rect x="995" y="430" width="1" height="2"/>
<rect x="996" y="430" width="1" height="2"/>
<rect x="997" y="430" width="1" height="2"/>
<rect x="998" y="431" width="1" height="2"/>
<rect x="999" y="431" width="1" height="2"/>
<rect x="1000" y="431" width="1" height="2"/>
<rect x="1001" y="431" width="1" height="2"/>
<rect x="1002" y="431" width="1" height="2"/>
<rect x="1003" y="431" width="1" height="2"/>
<rect x="1004" y="431" width="1" height="2"/>
<rect x="1005" y="431" width="1" height="2"/>
<rect x="1006" y="431" width="1" height="2"/>
<rect x="1007" y="431" width="1" height="2"/>
<rect x="1008" y="431" width="1" height="2"/>
<rect x="1009" y="431" width="1" height="2"/>
<rect x="1010" y="431" width="1" height="2"/>
<rect x="1011" y="431" width="1" height="2"/>
<rect x="1012" y="431" width="1" height="2"/>
<rect x="1013" y="431" width="1" height="2"/>
<rect x="1014" y="431" width="1" height="2"/>
<rect x="1015" y="431" width="1" height="2"/>
<rect x="1016" y="431" width="1" height="2"/>
<rect x="1017" y="431" width="1" height="2"/>
<rect x="1018" y="431" width="1" height="2"/>
<rect x="1019" y="430" width="1" height="2"/>
<rect x="1020" y="430" width="1" height="2"/>
<rect x="1021" y="430" width="1" height="2"/>
<rect x="1022" y="430" width="1" height="2"/>
<rect x="1023" y="430" width="1" height="2"/>
<rect x="1024" y="430" width="1" height="2"/>
<rect x="1025" y="430" width="1" height="2"/>
<rect x="1026" y="429" width="1" height="2"/>
<rect x="1027" y="429" width="1" height="2"/>
<rect x="1028" y="429" width="1" height="2"/>
<rect x="1029" y="429" width="1" height="2"/>
<rect x="1030" y="429" width="1" height="2"/>
<rect x="1031" y="429" width="1" height="2"/>
<rect x="1032" y="429" width="1" height="2"/>
<rect x="1033" y="429" width="1" height="2"/>
<rect x="1034" y="429" width="1" height="2"/>
<rect x="1035" y="428" width="1" height="2"/>
<rect x="1036" y="428" width="1" height="2"/>
<rect x="1037" y="428" width="1" height="2"/>
<rect x="1038" y="428" width="1" height="2"/>
<rect x="1039" y="428" width="1" height="2"/>
<rect x="1040" y="428" width="1" height="2"/>
<rect x="1041" y="428" width="1" height="2"/>
<rect x="1042" y="428" width="1" height="2"/>
<rect x="1043" y="428" width="1" height="2"/>
<rect x="1044" y="427" width="1" height="2"/>
<rect x="1045" y="427" width="1" height="2"/>
<rect x="1046" y="427" width="1" height="2"/>
<rect x="1047" y="427" width="1" height="2"/>
<rect x="1048" y="427" width="1" height="2"/>
<rect x="1049" y="427" width="1" height="2"/>
<rect x="1050" y="426" width="1" height="2"/>
<rect x="1051" y="426" width="1" height="2"/>
<rect x="1052" y="426" width="1" height="2"/>
<rect x="1053" y="426" width="1" height="2"/>
<rect x="1054" y="426" width="1" height="2"/>
<rect x="1055" y="426" width="1" height="2"/>
<rect x="1056" y="426" width="1" height="2"/>
<rect x="1057" y="425" width="1" height="2"/>
<rect x="1058" y="425" width="1" height="2"/>
<rect x="1059" y="425" width="1" height="2"/>
<rect x="1060" y="425" width="1" height="2"/>
<rect x="1061" y="424" width="1" height="2"/>
<rect x="1062" y="424" width="1" height="2"/>
<rect x="1063" y="423" width="1" height="2"/>
<rect x="1064" y="423" width="1" height="2"/>
<rect x="1065" y="423" width="1" height="2"/>
<rect x="1066" y="422" width="1" height="2"/>
<rect x="1067" y="422" width="1" height="2"/>
<rect x="1068" y="421" width="1" height="2"/>
<rect x="1069" y="421" width="1" height="2"/>
<rect x="1070" y="421" width="1" height="2"/>
<rect x="1071" y="420" width="1" height="2"/>
<rect x="1072" y="420" width="1" height="2"/>
<rect x="1073" y="419" width="1" height="2"/>
<rect x="1074" y="419" width="1" height="2"/>
<rect x="1075" y="418" width="1" height="2"/>
<rect x="1076" y="418" width="1" height="2"/>
<rect x="1077" y="418" width="1" height="2"/>
<rect x="1078" y="417" width="1" height="2"/>
<rect x="1079" y="417" width="1" height="2"/>
<rect x="1080" y="416" width="1" height="2"/>
<rect x="1081" y="416" width="1" height="2"/>
<rect x="1082" y="415" width="1" height="2"/>
<rect x="1083" y="415" width="1" height="2"/>
<rect x="1084" y="415" width="1" height="2"/>
<rect x="1085" y="414" width="1" height="2"/>
<rect x="1086" y="414" width="1" height="2"/>
<rect x="1087" y="413" width="1" height="2"/>
<rect x="1088" y="413" width="1" height="2"/>
<rect x="1089" y="412" width="1" height="2"/>
<rect x="1090" y="412" width="1" height="2"/>
<rect x="1091" y="412" width="1" height="2"/>
<rect x="1092" y="411" width="1" height="2"/>
<rect x="1093" y="411" width="1" height="2"/>
<rect x="1094" y="410" width="1" height="2"/>
<rect x="1095" y="410" width="1" height="2"/>
<rect x="1096" y="410" width="1" height="2"/>
<rect x="1097" y="409" width="1" height="2"/>
<rect x="1098" y="409" width="1" height="2"/>
<rect x="1099" y="408" width="1" height="2"/>
<rect x="1100" y="408" width="1" height="2"/>
<rect x="1101" y="408" width="1" height="2"/>
<rect x="1102" y="407" width="1" height="2"/>
<rect x="1103" y="407" width="1" height="2"/>
<rect x="1104" y="406" width="1" height="2"/>
<rect x="1105" y="406" width="1" height="2"/>
<rect x="1106" y="406" width="1" height="2"/>
<rect x="1107" y="405" width="1" height="2"/>
<rect x="1108" y="405" width="1" height="2"/>
<rect x="1109" y="404" width="1" height="2"/>
<rect x="1110" y="404" width="1" height="2"/>
<rect x="1111" y="404" width="1" height="2"/>
<rect x="1112" y="403" width="1" height="2"/>
<rect x="1113" y="403" width="1" height="2"/>
<rect x="1114" y="403" width="1" height="2"/>
<rect x="1115" y="402" width="1" height="2"/>
<rect x="1116" y="402" width="1" height="2"/>
<rect x="1117" y="402" width="1" height="2"/>
<rect x="1118" y="401" width="1" height="2"/>
<rect x="1119" y="401" width="1" height="2"/>
<rect x="1120" y="401" width="1" height="2"/>
<rect x="1121" y="400" width="1" height="2"/>
<rect x="1122" y="400" width="1" height="2"/>
<rect x="1123" y="400" width="1" height="2"/>
<rect x="1124" y="399" width="1" height="2"/>
<rect x="1125" y="399" width="1" height="2"/>
<rect x="1126" y="399" width="1" height="2"/>
<rect x="1127" y="398" width="1" height="2"/>
<rect x="1128" y="398" width="1" height="2"/>
<rect x="1129" y="398" width="1" height="2"/>
<rect x="1130" y="397" width="1" height="2"/>
<rect x="1131" y="397" width="1" height="2"/>
<rect x="1132" y="397" width="1" height="2"/>
<rect x="1133" y="396" width="1" height="2"/>
<rect x="1134" y="396" width="1" height="2"/>
<rect x="1135" y="395" width="1" height="2"/>
<rect x="1136" y="395" width="1" height="2"/>
<rect x="1137" y="395" width="1" height="2"/>
<rect x="1138" y="394" width="1" height="2"/>
<rect x="1139" y="394" width="1" height="2"/>
<rect x="1140" y="394" width="1" height="2"/>
<rect x="1141" y="393" width="1" height="2"/>
<rect x="1142" y="393" width="1" height="2"/>
<rect x="1143" y="393" width="1" height="2"/>
<rect x="1144" y="392" width="1" height="2"/>
<rect x="1145" y="391" width="1" height="2"/>
<rect x="1146" y="391" width="1" height="2"/>
<rect x="1147" y="390" width="1" height="2"/>
<rect x="1148" y="390" width="1" height="2"/>
<rect x="1149" y="389" width="1" height="2"/>
<rect x="1150" y="389" width="1" height="2"/>
<rect x="1151" y="388" width="1" height="2"/>
<rect x="1152" y="388" width="1" height="2"/>
<rect x="1153" y="388" width="1" height="2"/>
<rect x="1154" y="387" width="1" height="2"/>
<rect x="1155" y="387" width="1" height="2"/>
<rect x="1156" y="387" width="1" height="2"/>
<rect x="1157" y="387" width="1" height="2"/>
<rect x="1158" y="386" width="1" height="2"/>
<rect x="1159" y="386" width="1" height="2"/>
<rect x="1160" y="386" width="1" height="2"/>
<rect x="1161" y="386" width="1" height="2"/>
<rect x="1162" y="385" width="1" height="2"/>
<rect x="1163" y="385" width="1" height="2"/>
<rect x="1164" y="385" width="1" height="2"/>
<rect x="1165" y="385" width="1" height="2"/>
<rect x="1166" y="384" width="1" height="2"/>
<rect x="1167" y="384" width="1" height="2"/>
<rect x="1168" y="384" width="1" height="2"/>
<rect x="1169" y="384" width="1" height="2"/>
<rect x="1170" y="383" width="1" height="2"/>
<rect x="1171" y="383" width="1" height="2"/>
<rect x="1172" y="383" width="1" height="2"/>
<rect x="1173" y="383" width="1" height="2"/>
<rect x="1174" y="382" width="1" height="2"/>
<rect x="1175" y="382" width="1" height="2"/>
<rect x="1176" y="382" width="1" height="2"/>
<rect x="1177" y="382" width="1" height="2"/>
<rect x="1178" y="381" width="1" height="2"/>
<rect x="1179" y="381" width="1" height="2"/>
<rect x="1180" y="381" width="1" height="2"/>
<rect x="1181" y="381" width="1" height="2"/>
<rect x="1182" y="381" width="1" height="2"/>
<rect x="1183" y="381" width="1" height="2"/>
<rect x="1184" y="380" width="1" height="2"/>
<rect x="1185" y="380" width="1" height="2"/>
<rect x="1186" y="380" width="1" height="2"/>
<rect x="1187" y="380" width="1" height="2"/>
<rect x="1188" y="380" width="1" height="2"/>
<rect x="1189" y="380" width="1" height="2"/>
<rect x="1190" y="380" width="1" height="2"/>
<rect x="1191" y="380" width="1" height="2"/>
<rect x="1192" y="380" width="1" height="2"/>
<rect x="1193" y="380" width="1" height="2"/>
<rect x="1194" y="379" width="1" height="2"/>
<rect x="1195" y="379" width="1" height="2"/>
<rect x="1196" y="379" width="1" height="2"/>
<rect x="1197" y="379" width="1" height="2"/>
<rect x="1198" y="379" width="1" height="2"/>
<rect x="1199" y="379" width="1" height="2"/>
<rect x="1200" y="379" width="1" height="2"/>
<rect x="1201" y="378" width="1" height="2"/>
<rect x="1202" y="378" width="1" height="2"/>
<rect x="1203" y="378" width="1" height="2"/>
<rect x="1204" y="378" width="1" height="2"/>
<rect x="1205" y="378" width="1" height="2"/>
<rect x="1206" y="377" width="1" height="2"/>
<rect x="1207" y="377" width="1" height="2"/>
<rect x="1208" y="377" width="1" height="2"/>
<rect x="1209" y="377" width="1" height="2"/>
<rect x="1210" y="376" width="1" height="2"/>
<rect x="1211" y="376" width="1" height="2"/>
<rect x="1212" y="376" width="1" height="2"/>
<rect x="1213" y="376" width="1" height="2"/>
<rect x="1214" y="375" width="1" height="2"/>
<rect x="1215" y="375" width="1" height="2"/>
<rect x="1216" y="375" width="1" height="2"/>
<rect x="1217" y="375" width="1" height="2"/>
<rect x="1218" y="375" width="1" height="2"/>
<rect x="1219" y="374" width="1" height="2"/>
<rect x="1220" y="374" width="1" height="2"/>
<rect x="1221" y="374" width="1" height="2"/>
<rect x="1222" y="374" width="1" height="2"/>
<rect x="1223" y="374" width="1" height="2"/>
<rect x="1224" y="373" width="1" height="2"/>
<rect x="1225" y="373" width="1" height="2"/>
<rect x="1226" y="373" width="1" height="2"/>
<rect x="1227" y="373" width="1" height="2"/>
<rect x="1228" y="373" width="1" height="2"/>
<rect x="1229" y="372" width="1" height="2"/>
<rect x="1230" y="372" width="1" height="2"/>
<rect x="1231" y="372" width="1" height="2"/>
<rect x="1232" y="372" width="1" height="2"/>
<rect x="1233" y="372" width="1" height="2"/>
<rect x="1234" y="371" width="1" height="2"/>
<rect x="1235" y="371" width="1" height="2"/>
<rect x="1236" y="371" width="1" height="2"/>
<rect x="1237" y="371" width="1" height="2"/>
<rect x="1238" y="371" width="1" height="2"/>
<rect x="1239" y="370" width="1" height="2"/>
<rect x="1240" y="370" width="1" height="2"/>
<rect x="1241" y="370" width="1" height="2"/>
<rect x="1242" y="370" width="1" height="2"/>
<rect x="1243" y="370" width="1" height="2"/>
<rect x="1244" y="370" width="1" height="2"/>
<rect x="1245" y="369" width="1" height="2"/>
<rect x="1246" y="369" width="1" height="2"/>
<rect x="1247" y="369" width="1" height="2"/>
<rect x="1248" y="369" width="1" height="2"/>
<rect x="1249" y="369" width="1" height="2"/>
<rect x="1250" y="368" width="1" height="2"/>
<rect x="1251" y="368" width="1" height="2"/>
<rect x="1252" y="368" width="1" height="2"/>
<rect x="1253" y="368" width="1" height="2"/>
<rect x="1254" y="368" width="1" height="2"/>
<rect x="1255" y="368" width="1" height="2"/>
<rect x="1256" y="367" width="1" height="2"/>
<rect x="1257" y="367" width="1" height="2"/>
<rect x="1258" y="367" width="1" height="2"/>
<rect x="1259" y="367" width="1" height="2"/>
<rect x="1260" y="367" width="1" height="2"/>
<rect x="1261" y="366" width="1" height="2"/>
<rect x="1262" y="366" width="1" height="2"/>
<rect x="1263" y="366" width="1" height="2"/>
<rect x="1264" y="366" width="1" height="2"/>
<rect x="1265" y="365" width="1" height="2"/>
<rect x="1266" y="365" width="1" height="2"/>
<rect x="1267" y="365" width="1" height="2"/>
<rect x="1268" y="365" width="1" height="2"/>
<rect x="1269" y="365" width="1" height="2"/>
<rect x="1270" y="364" width="1" height="2"/>
<rect x="1271" y="364" width="1" height="2"/>
<rect x="1272" y="364" width="1" height="2"/>
<rect x="1273" y="364" width="1" height="2"/>
<rect x="1274" y="363" width="1" height="2"/>
<rect x="1275" y="363" width="1" height="2"/>
<rect x="1276" y="363" width="1" height="2"/>
<rect x="1277" y="363" width="1" height="2"/>
<rect x="1278" y="362" width="1" height="2"/>
<rect x="1279" y="362" width="1" height="2"/>
<rect x="1280" y="362" width="1" height="2"/>
<rect x="1281" y="362" width="1" height="2"/>
<rect x="1282" y="362" width="1" height="2"/>
<rect x="1283" y="362" width="1" height="2"/>
<rect x="1284" y="362" width="1" height="2"/>
<rect x="1285" y="362" width="1" height="2"/>
<rect x="1286" y="361" width="1" height="2"/>
<rect x="1287" y="361" width="1" height="2"/>
<rect x="1288" y="361" width="1" height="2"/>
<rect x="1289" y="361" width="1" height="2"/>
<rect x="1290" y="361" width="1" height="2"/>
<rect x="1291" y="361" width="1" height="2"/>
<rect x="1292" y="361" width="1" height="2"/>
<rect x="1293" y="361" width="1" height="2"/>
<rect x="1294" y="361" width="1" height="2"/>
<rect x="1295" y="361" width="1" height="2"/>
<rect x="1296" y="361" width="1" height="2"/>
<rect x="1297" y="361" width="1" height="2"/>
<rect x="1298" y="361" width="1" height="2"/>
<rect x="1299" y="361" width="1" height="2"/>
<rect x="1300" y="361" width="1" height="2"/>
<rect x="1301" y="361" width="1" height="2"/>
<rect x="1302" y="361" width="1" height="2"/>
<rect x="1303" y="361" width="1" height="2"/>
<rect x="1304" y="361" width="1" height="2"/>
<rect x="1305" y="361" width="1" height="2"/>
<rect x="1306" y="361" width="1" height="2"/>
<rect x="1307" y="361" width="1" height="2"/>
<rect x="1308" y="361" width="1" height="2"/>
<rect x="1309" y="361" width="1" height="2"/>
<rect x="1310" y="361" width="1" height="2"/>
<rect x="1311" y="361" width="1" height="2"/>
<rect x="1312" y="361" width="1" height="2"/>
<rect x="1313" y="361" width="1" height="2"/>
<rect x="1314" y="361" width="1" height="2"/>
<rect x="1315" y="361" width="1" height="2"/>
<rect x="1316" y="361" width="1" height="2"/>
<rect x="1317" y="361" width="1" height="2"/>
<rect x="1318" y="361" width="1" height="2"/>
<rect x="1319" y="361" width="1" height="2"/>
<rect x="1320" y="361" width="1" height="2"/>
<rect x="1321" y="361" width="1" height="2"/>
<rect x="1322" y="361" width="1" height="2"/>
<rect x="1323" y="361" width="1" height="2"/>
<rect x="1324" y="361" width="1" height="2"/>
<rect x="1325" y="361" width="1" height="2"/>
<rect x="1326" y="361" width="1" height="2"/>
<rect x="1327" y="361" width="1" height="2"/>
<rect x="1328" y="361" width="1" height="2"/>
<rect x="1329" y="361" width="1" height="2"/>
<rect x="1330" y="361" width="1" height="2"/>
<rect x="1331" y="361" width="1" height="2"/>
<rect x="1332" y="361" width="1" height="2"/>
<rect x="1333" y="361" width="1" height="2"/>
<rect x="1334" y="361" width="1" height="2"/>
<rect x="1335" y="361" width="1" height="2"/>
<rect x="1336" y="361" width="1" height="2"/>
<rect x="1337" y="361" width="1" height="2"/>
<rect x="1338" y="360" width="1" height="2"/>
<rect x="1339" y="360" width="1" height="2"/>
<rect x="1340" y="360" width="1" height="2"/>
<rect x="1341" y="360" width="1" height="2"/>
<rect x="1342" y="360" width="1" height="2"/>
<rect x="1343" y="359" width="1" height="2"/>
<rect x="1344" y="359" width="1" height="2"/>
<rect x="1345" y="359" width="1" height="2"/>
<rect x="1346" y="359" width="1" height="2"/>
<rect x="1347" y="359" width="1" height="2"/>
<rect x="1348" y="358" width="1" height="2"/>
<rect x="1349" y="358" width="1" height="2"/>
<rect x="1350" y="358" width="1" height="2"/>
<rect x="1351" y="358" width="1" height="2"/>
<rect x="1352" y="358" width="1" height="2"/>
<rect x="1353" y="358" width="1" height="2"/>
<rect x="1354" y="358" width="1" height="2"/>
<rect x="1355" y="357" width="1" height="2"/>
<rect x="1356" y="357" width="1" height="2"/>
<rect x="1357" y="357" width="1" height="2"/>
<rect x="1358" y="357" width="1" height="2"/>
<rect x="1359" y="357" width="1" height="2"/>
<rect x="1360" y="357" width="1" height="2"/>
<rect x="1361" y="357" width="1" height="2"/>
<rect x="1362" y="357" width="1" height="2"/>
<rect x="1363" y="356" width="1" height="2"/>
<rect x="1364" y="356" width="1" height="2"/>
<rect x="1365" y="356" width="1" height="2"/>
<rect x="1366" y="356" width="1" height="2"/>
<rect x="1367" y="356" width="1" height="2"/>
<rect x="1368" y="356" width="1" height="2"/>
<rect x="1369" y="356" width="1" height="2"/>
<rect x="1370" y="356" width="1" height="2"/>
<rect x="1371" y="356" width="1" height="2"/>
<rect x="1372" y="356" width="1" height="2"/>
<rect x="1373" y="356" width="1" height="2"/>
<rect x="1374" y="356" width="1" height="2"/>
<rect x="1375" y="356" width="1" height="2"/>
<rect x="1376" y="357" width="1" height="2"/>
<rect x="1377" y="357" width="1" height="2"/>
<rect x="1378" y="357" width="1" height="2"/>
<rect x="1379" y="357" width="1" height="2"/>
<rect x="1380" y="358" width="1" height="2"/>
<rect x="1381" y="358" width="1" height="2"/>
<rect x="1382" y="358" width="1" height="2"/>
<rect x="1383" y="358" width="1" height="2"/>
<rect x="1384" y="358" width="1" height="2"/>
<rect x="1385" y="359" width="1" height="2"/>
<rect x="1386" y="359" width="1" height="2"/>
<rect x="1387" y="359" width="1" height="2"/>
<rect x="1388" y="359" width="1" height="2"/>
<rect x="1389" y="359" width="1" height="2"/>
<rect x="1390" y="360" width="1" height="2"/>
<rect x="1391" y="360" width="1" height="2"/>
<rect x="1392" y="360" width="1" height="2"/>
<rect x="1393" y="360" width="1" height="2"/>
<rect x="1394" y="361" width="1" height="2"/>
<rect x="1395" y="361" width="1" height="2"/>
<rect x="1396" y="362" width="1" height="2"/>
<rect x="1397" y="362" width="1" height="2"/>
<rect x="1398" y="363" width="1" height="2"/>
<rect x="1399" y="363" width="1" height="2"/>
<rect x="1400" y="364" width="1" height="2"/>
<rect x="1401" y="364" width="1" height="2"/>
<rect x="1402" y="365" width="1" height="2"/>
<rect x="1403" y="365" width="1" height="2"/>
<rect x="1404" y="366" width="1" height="2"/>
<rect x="1405" y="366" width="1" height="2"/>
<rect x="1406" y="367" width="1" height="2"/>
<rect x="1407" y="367" width="1" height="2"/>
<rect x="1408" y="367" width="1" height="2"/>
<rect x="1409" y="368" width="1" height="2"/>
<rect x="1410" y="368" width="1" height="2"/>
<rect x="1411" y="369" width="1" height="2"/>
<rect x="1412" y="369" width="1" height="2"/>
<rect x="1413" y="369" width="1" height="2"/>
<rect x="1414" y="370" width="1" height="2"/>
<rect x="1415" y="370" width="1" height="2"/>
<rect x="1416" y="371" width="1" height="2"/>
<rect x="1417" y="371" width="1" height="2"/>
<rect x="1418" y="371" width="1" height="2"/>
<rect x="1419" y="372" width="1" height="2"/>
<rect x="1420" y="372" width="1" height="2"/>
<rect x="1421" y="373" width="1" height="2"/>
<rect x="1422" y="373" width="1" height="2"/>
<rect x="1423" y="373" width="1" height="2"/>
<rect x="1424" y="374" width="1" height="2"/>
<rect x="1425" y="374" width="1" height="2"/>
<rect x="1426" y="375" width="1" height="2"/>
<rect x="1427" y="375" width="1" height="2"/>
</g>
<g shape-rendering="crispEdges">
<rect x="1428" y="376" width="2" height="1" fill="#666"/>
<rect x="1432" y="376" width="2" height="1" fill="#666"/>
<rect x="1436" y="376" width="2" height="1" fill="#666"/>
<rect x="1440" y="376" width="2" height="1" fill="#666"/>
<rect x="1444" y="376" width="2" height="1" fill="#666"/>
<rect x="1448" y="376" width="2" height="1" fill="#666"/>
<rect x="1452" y="376" width="2" height="1" fill="#666"/>
<rect x="1456" y="376" width="2" height="1" fill="#666"/>
<rect x="1460" y="376" width="2" height="1" fill="#666"/>
<rect x="1464" y="376" width="2" height="1" fill="#666"/>
<rect x="1468" y="376" width="2" height="1" fill="#666"/>
<rect x="1472" y="376" width="2" height="1" fill="#666"/>
<rect x="1476" y="376" width="2" height="1" fill="#666"/>
<rect x="1480" y="376" width="2" height="1" fill="#666"/>
<rect x="1484" y="376" width="2" height="1" fill="#666"/>
<rect x="1488" y="376" width="2" height="1" fill="#666"/>
<rect x="1492" y="376" width="2" height="1" fill="#666"/>
<rect x="1496" y="376" width="2" height="1" fill="#666"/>
<rect x="1500" y="376" width="2" height="1" fill="#666"/>
<rect x="1504" y="376" width="2" height="1" fill="#666"/>
<rect x="1508" y="376" width="2" height="1" fill="#666"/>
<rect x="1512" y="376" width="2" height="1" fill="#666"/>
<rect x="1516" y="376" width="2" height="1" fill="#666"/>
<rect x="1520" y="376" width="2" height="1" fill="#666"/>
<rect x="1524" y="376" width="2" height="1" fill="#666"/>
<rect x="1528" y="376" width="2" height="1" fill="#666"/>
<rect x="1532" y="376" width="2" height="1" fill="#666"/>
<rect x="1536" y="376" width="2" height="1" fill="#666"/>
<rect x="1540" y="376" width="2" height="1" fill="#666"/>
<rect x="1544" y="376" width="2" height="1" fill="#666"/>
<rect x="1548" y="376" width="2" height="1" fill="#666"/>
<rect x="1552" y="376" width="2" height="1" fill="#666"/>
<rect x="1428" y="742" width="2" height="1" fill="#666"/>
<rect x="1432" y="742" width="2" height="1" fill="#666"/>
<rect x="1436" y="742" width="2" height="1" fill="#666"/>
<rect x="1440" y="742" width="2" height="1" fill="#666"/>
<rect x="1444" y="742" width="2" height="1" fill="#666"/>
<rect x="1448" y="742" width="2" height="1" fill="#666"/>
<rect x="1452" y="742" width="2" height="1" fill="#666"/>
<rect x="1456" y="742" width="2" height="1" fill="#666"/>
<rect x="1460" y="742" width="2" height="1" fill="#666"/>
<rect x="1464" y="742" width="2" height="1" fill="#666"/>
<rect x="1468" y="742" width="2" height="1" fill="#666"/>
<rect x="1472" y="742" width="2" height="1" fill="#666"/>
<rect x="1476" y="742" width="2" height="1" fill="#666"/>
<rect x="1480" y="742" width="2" height="1" fill="#666"/>
<rect x="1484" y="742" width="2" height="1" fill="#666"/>
<rect x="1488" y="742" width="2" height="1" fill="#666"/>
<rect x="1492" y="742" width="2" height="1" fill="#666"/>
<rect x="1496" y="742" width="2" height="1" fill="#666"/>
<rect x="1500" y="742" width="2" height="1" fill="#666"/>
<rect x="1504" y="742" width="2" height="1" fill="#666"/>
<rect x="1508" y="742" width="2" height="1" fill="#666"/>
<rect x="1512" y="742" width="2" height="1" fill="#666"/>
<rect x="1516" y="742" width="2" height="1" fill="#666"/>
<rect x="1520" y="742" width="2" height="1" fill="#666"/>
<rect x="1524" y="742" width="2" height="1" fill="#666"/>
<rect x="1528" y="742" width="2" height="1" fill="#666"/>
<rect x="1532" y="742" width="2" height="1" fill="#666"/>
<rect x="1536" y="742" width="2" height="1" fill="#666"/>
<rect x="1540" y="742" width="2" height="1" fill="#666"/>
<rect x="1544" y="742" width="2" height="1" fill="#666"/>
<rect x="1548" y="742" width="2" height="1" fill="#666"/>
<rect x="1552" y="742" width="2" height="1" fill="#666"/>
</g>
<path d="M1518,1 L1528,1 L1523,6 Z" fill="#3a3a3a"/>
<rect x="1553" y="0" width="64" height="894" fill="#f3f3f6"/>
<rect x="1552" y="0" width="1" height="869" fill="#d8d8d8" shape-rendering="crispEdges"/>
<svg x="1553" y="0" width="64" height="869" overflow="hidden">
<rect x="0" y="28" width="6" height="1" fill="#333" shape-rendering="crispEdges"/>
<text class="ax" x="15" y="32.5">1.1650</text>
<rect x="0" y="63" width="6" height="1" fill="#333" shape-rendering="crispEdges"/>
<text class="ax" x="15" y="67.5">1.1600</text>
<rect x="0" y="98" width="6" height="1" fill="#333" shape-rendering="crispEdges"/>
<text class="ax" x="15" y="102.5">1.1550</text>
<rect x="0" y="133" width="6" height="1" fill="#333" shape-rendering="crispEdges"/>
<text class="ax" x="15" y="137.5">1.1500</text>
<rect x="0" y="168" width="6" height="1" fill="#333" shape-rendering="crispEdges"/>
<text class="ax" x="15" y="172.5">1.1450</text>
<rect x="0" y="203" width="6" height="1" fill="#333" shape-rendering="crispEdges"/>
<text class="ax" x="15" y="207.5">1.1400</text>
<rect x="0" y="238" width="6" height="1" fill="#333" shape-rendering="crispEdges"/>
<text class="ax" x="15" y="242.5">1.1350</text>
<rect x="0" y="273" width="6" height="1" fill="#333" shape-rendering="crispEdges"/>
<text class="ax" x="15" y="277.5">1.1300</text>
<rect x="0" y="308" width="6" height="1" fill="#333" shape-rendering="crispEdges"/>
<text class="ax" x="15" y="312.5">1.1250</text>
<rect x="0" y="343" width="6" height="1" fill="#333" shape-rendering="crispEdges"/>
<text class="ax" x="15" y="347.5">1.1200</text>
<rect x="0" y="378" width="6" height="1" fill="#333" shape-rendering="crispEdges"/>
<text class="ax" x="15" y="382.5">1.1150</text>
<rect x="0" y="413" width="6" height="1" fill="#333" shape-rendering="crispEdges"/>
<text class="ax" x="15" y="417.5">1.1100</text>
<rect x="0" y="448" width="6" height="1" fill="#333" shape-rendering="crispEdges"/>
<text class="ax" x="15" y="452.5">1.1050</text>
<rect x="0" y="483" width="6" height="1" fill="#333" shape-rendering="crispEdges"/>
<text class="ax" x="15" y="487.5">1.1000</text>
<rect x="0" y="518" width="6" height="1" fill="#333" shape-rendering="crispEdges"/>
<text class="ax" x="15" y="522.5">1.0950</text>
<rect x="0" y="553" width="6" height="1" fill="#333" shape-rendering="crispEdges"/>
<text class="ax" x="15" y="557.5">1.0900</text>
<rect x="0" y="588" width="6" height="1" fill="#333" shape-rendering="crispEdges"/>
<text class="ax" x="15" y="592.5">1.0850</text>
<rect x="0" y="623" width="6" height="1" fill="#333" shape-rendering="crispEdges"/>
<text class="ax" x="15" y="627.5">1.0800</text>
<rect x="0" y="658" width="6" height="1" fill="#333" shape-rendering="crispEdges"/>
<text class="ax" x="15" y="662.5">1.0750</text>
<rect x="0" y="693" width="6" height="1" fill="#333" shape-rendering="crispEdges"/>
<text class="ax" x="15" y="697.5">1.0700</text>
<rect x="0" y="728" width="6" height="1" fill="#333" shape-rendering="crispEdges"/>
<text class="ax" x="15" y="732.5">1.0650</text>
<rect x="0" y="763" width="6" height="1" fill="#333" shape-rendering="crispEdges"/>
<text class="ax" x="15" y="767.5">1.0600</text>
<rect x="0" y="798" width="6" height="1" fill="#333" shape-rendering="crispEdges"/>
<text class="ax" x="15" y="802.5">1.0550</text>
<rect x="0" y="833" width="6" height="1" fill="#333" shape-rendering="crispEdges"/>
<text class="ax" x="15" y="837.5">1.0500</text>
<rect x="0" y="868" width="6" height="1" fill="#333" shape-rendering="crispEdges"/>
<text class="ax" x="15" y="872.5">1.0450</text>
</svg>
<rect x="1554.5" y="369.5" width="61" height="14" fill="#000" stroke="#e8eef0" stroke-width="1"/>
<text class="ax" x="1565" y="381" style="fill:#fff">1.11540</text>
<rect x="1554.5" y="735.5" width="61" height="14" fill="#a00000" stroke="#e8eef0" stroke-width="1"/>
<text class="ax" x="1565" y="747" style="fill:#fff">1.06303</text>
<rect x="0" y="869" width="1553" height="25" fill="#f3f3f6"/>
<g shape-rendering="crispEdges">
<rect x="0" y="869" width="1552" height="1" fill="#d8d8d8"/>
<rect x="0" y="882" width="1553" height="1" fill="#444444"/>
<rect x="1552" y="870" width="1" height="24" fill="#444444"/>
<rect x="265" y="870" width="1" height="24" fill="#444444"/>
<rect x="40" y="870" width="1" height="12" fill="#444444"/>
<rect x="150" y="870" width="1" height="12" fill="#444444"/>
<rect x="265" y="870" width="1" height="12" fill="#444444"/>
<rect x="370" y="870" width="1" height="12" fill="#444444"/>
<rect x="475" y="870" width="1" height="12" fill="#444444"/>
<rect x="590" y="870" width="1" height="12" fill="#444444"/>
<rect x="690" y="870" width="1" height="12" fill="#444444"/>
<rect x="805" y="870" width="1" height="12" fill="#444444"/>
<rect x="915" y="870" width="1" height="12" fill="#444444"/>
<rect x="1020" y="870" width="1" height="12" fill="#444444"/>
<rect x="1135" y="870" width="1" height="12" fill="#444444"/>
<rect x="1240" y="870" width="1" height="12" fill="#444444"/>
<rect x="1350" y="870" width="1" height="12" fill="#444444"/>
<rect x="1460" y="870" width="1" height="12" fill="#444444"/>
</g>
<text class="ax" x="44" y="880">Nov 2015</text>
<text class="ax" x="154" y="880">Dec 2015</text>
<text class="ax" x="269" y="880">Jan 2016</text>
<text class="ax" x="374" y="880">Feb 2016</text>
<text class="ax" x="479" y="880">Mar 2016</text>
<text class="ax" x="594" y="880">Apr 2016</text>
<text class="ax" x="694" y="880">May 2016</text>
<text class="ax" x="809" y="880">Jun 2016</text>
<text class="ax" x="919" y="880">Jul 2016</text>
<text class="ax" x="1024" y="880">Aug 2016</text>
<text class="ax" x="1139" y="880">Sep 2016</text>
<text class="ax" x="1244" y="880">Oct 2016</text>
<text class="ax" x="1354" y="880">Nov 2016</text>
<text class="ax" x="1464" y="880">Dec 2016</text>
<text class="ax" x="119" y="892">2015</text>
<text class="ax" x="895" y="892">2016</text>
</svg></body></html>
